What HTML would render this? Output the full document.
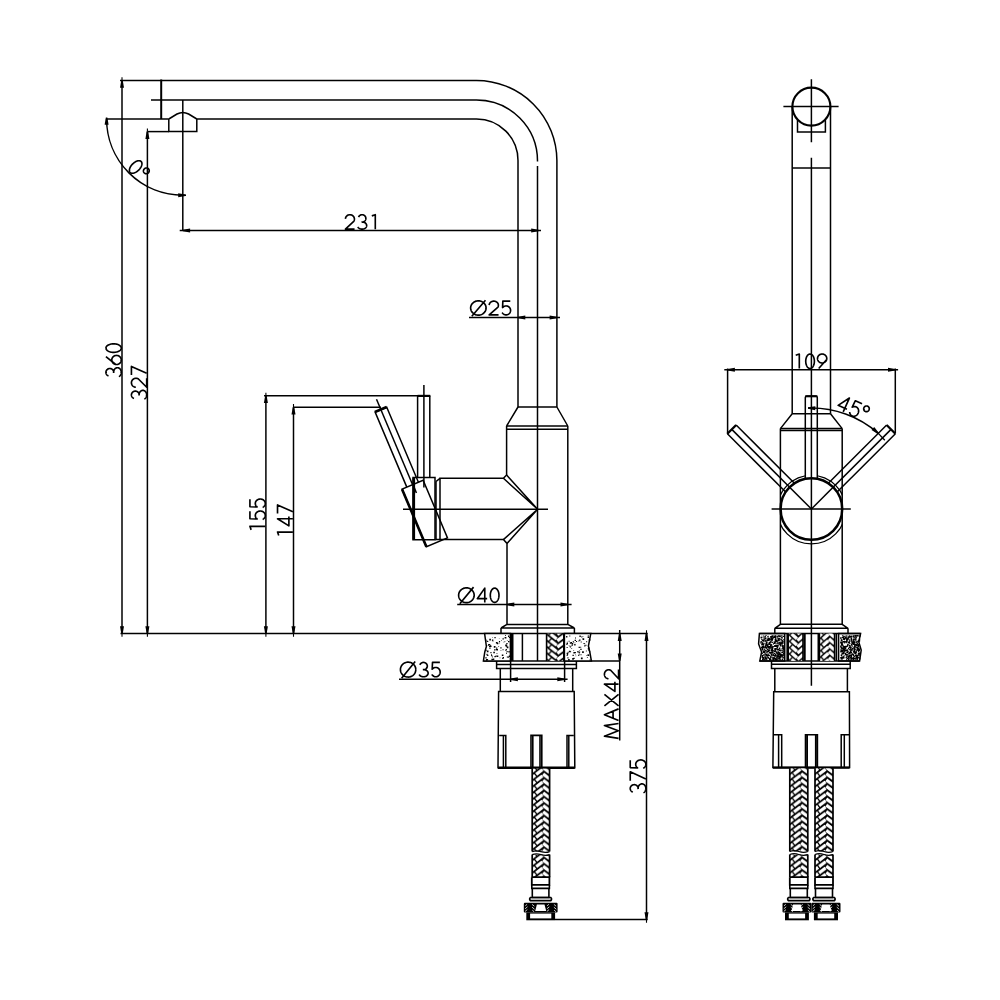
<!DOCTYPE html>
<html><head><meta charset="utf-8"><style>
html,body{margin:0;padding:0;background:#fff;width:1000px;height:1000px;overflow:hidden}
svg{display:block}
text{font-family:"Liberation Sans",sans-serif;fill:#000;stroke:none}
</style></head><body>
<svg width="1000" height="1000" viewBox="0 0 1000 1000" fill="none" stroke="#000" stroke-linecap="butt">
<path d="M120,80.5H476.5A80.4,80.4 0 0 1 556.9,160.5V407" stroke-width="1.5"/>
<path d="M151,100H476.5A61,61 0 0 1 537.5,161.5" stroke-width="1.5"/>
<path d="M537.5,166V661" stroke-width="1.5"/>
<path d="M196.8,119H476.5A41.5,41.5 0 0 1 518,160.5V407" stroke-width="1.5"/>
<path d="M106,119H168.8" stroke-width="1.5"/>
<path d="M161.2,79.5V119" stroke-width="2.0"/>
<path d="M168.8,119V131.6H196.8V119M168.8,119L177,114Q182.8,110.8 188.6,114L196.8,119" stroke-width="1.5"/>
<path d="M147.5,131.6H168.8" stroke-width="1.5"/>
<path d="M182.8,100V230.5" stroke-width="1.5"/>
<path d="M518,407H556.9M518,407L506.6,426M556.9,407L567.8,426" stroke-width="1.5"/>
<path d="M506.6,426H567.8M506.6,429.2H567.8" stroke-width="1.5"/>
<path d="M506.6,426V475L503.4,478.3H440V539.6H503.4L507,543.4V624.4" stroke-width="1.5"/>
<path d="M567.8,426V624.4" stroke-width="1.5"/>
<path d="M503.4,478.3L537.6,509.3L506.6,475M503.4,539.6L537.6,509.3L507,543.4" stroke-width="1.5"/>
<path d="M436,481.5L440,478.3M436,481.5V539.6H440" stroke-width="1.5"/>
<path d="M413,477.6H435V539.7H413Z" stroke-width="1.5"/>
<path d="M413.8,478V539.5" stroke-width="2.6"/>
<path d="M403,509.3H548" stroke-width="1.5"/>
<path d="M417.6,395.8V477.6M429.8,395.8V477.6" stroke-width="1.5"/>
<path d="M423.9,385V477.6" stroke-width="1.5"/>
<path d="M264,395.8H430.2" stroke-width="1.5"/>
<path d="M417.6,395.9H430.2" stroke-width="2.2"/>
<path d="M293.5,407.2H381" stroke-width="1.5"/>
<g transform="translate(376.5,399.2) rotate(-22.9)"><path d="M0,0V92.8" stroke-width="1.5"/><path d="M-6.3,92.8V11.4H6.3V92.8" stroke-width="1.5"/><path d="M-6.5,11.2H6.3" stroke-width="2.6"/><path d="M-11.45,92.8H11.45V155.3H-11.45Z" stroke-width="1.5"/><path d="M-11.45,92.8V155.3" stroke-width="2.6"/></g>
<path d="M507,624.4H567.8M507,624.4L501,628M567.8,624.4L574.4,628M501,628H574.4M501,628V633.6M574.4,628V633.6" stroke-width="1.5"/>
<path d="M120.5,633.6H647.7" stroke-width="1.5"/>
<path d="M483.4,660.9H620" stroke-width="1.5"/>
<circle cx="811.4" cy="106.6" r="19" stroke-width="2.1"/>
<path d="M783.4,106.6H838.6M811.4,79.2V142.2M811.4,157.8V685.7" stroke-width="1.5"/>
<path d="M792.2,106.6V413.8M830.5,106.6V413.8" stroke-width="1.5"/>
<path d="M797.5,119.5V132H825.4V119.5" stroke-width="1.5"/>
<path d="M792.2,168H830.5" stroke-width="1.5"/>
<path d="M792.2,413.8H830.5M792.2,413.8L780.4,428.6M830.5,413.8L842.2,428.6" stroke-width="1.5"/>
<path d="M780.4,428.6H842.2M780.4,430.6H842.2" stroke-width="1.5"/>
<path d="M780.4,428.6V624.3M842.2,428.6V624.3" stroke-width="1.5"/>
<path d="M780.4,624.3H842.2M780.4,624.3L774.8,628.3M842.2,624.3L848,628.3M774.8,628.3H848M774.8,628.3V633.4M848,628.3V633.4" stroke-width="1.5"/>
<path d="M122,80.5V633.6" stroke-width="1.5"/>
<path d="M122,77.3V80.5M122,633.6V636.8" stroke-width="1.1"/>
<path d="M122.75,80.50L124.00,87.80L120.00,87.80L121.25,80.50Z" fill="#000" stroke="none"/>
<path d="M121.25,633.60L120.00,626.30L124.00,626.30L122.75,633.60Z" fill="#000" stroke="none"/>
<path d="M108.50,375.91L108.13,375.76L107.78,375.57L107.45,375.35L107.15,375.09L106.87,374.81L106.63,374.50L106.41,374.17L106.24,373.82L106.10,373.45L106.00,373.08L105.94,372.69L105.93,372.30L105.95,371.91L106.01,371.52L106.11,371.15L106.26,370.78L106.44,370.43L106.65,370.10L106.90,369.80L107.18,369.52L107.49,369.27L107.82,369.05L108.17,368.87L108.54,368.72L108.93,368.61L109.32,368.54L109.72,368.50L110.12,368.51L110.52,368.56L110.91,368.65L111.28,368.77L111.65,368.93L111.99,369.13L112.32,369.36L112.61,369.63L112.88,369.92L113.12,370.23L113.32,370.57L113.48,370.93L113.61,371.30L113.70,371.68L113.74,372.06L113.75,372.45M113.64,372.97L113.60,372.49L113.61,372.01L113.66,371.53L113.75,371.06L113.87,370.61L114.04,370.17L114.24,369.76L114.48,369.37L114.75,369.02L115.05,368.70L115.37,368.42L115.72,368.18L116.09,367.99L116.47,367.84L116.86,367.75L117.25,367.70L117.65,367.70L118.05,367.75L118.44,367.85L118.82,368.00L119.18,368.20L119.53,368.44L119.85,368.72L120.15,369.04L120.41,369.40L120.65,369.79L120.85,370.20L121.01,370.64L121.14,371.10L121.22,371.57L121.27,372.04L121.27,372.52L121.23,373.00L121.15,373.47L121.03,373.93L120.88,374.37L120.68,374.79L120.45,375.18L120.19,375.55L119.90,375.87L119.58,376.16L119.24,376.41L118.88,376.61M116.52,355.43L116.03,355.45L115.54,355.53L115.07,355.64L114.61,355.81L114.17,356.02L113.76,356.27L113.38,356.56L113.02,356.89L112.71,357.25L112.44,357.64L112.21,358.05L112.02,358.49L111.89,358.94L111.80,359.40L111.76,359.87L111.77,360.33L111.84,360.80L111.95,361.26L112.11,361.70L112.32,362.12L112.57,362.52L112.86,362.90L113.20,363.24L113.56,363.55L113.96,363.82L114.39,364.06L114.84,364.24L115.30,364.39L115.78,364.48L116.27,364.53L116.76,364.53L117.25,364.48L117.73,364.39L118.20,364.24L118.64,364.06L119.07,363.82L119.47,363.55L119.84,363.24L120.17,362.90L120.46,362.52L120.72,362.12L120.92,361.70L121.09,361.26L121.20,360.80L121.26,360.33L121.27,359.87L121.24,359.40L121.15,358.94L121.01,358.49L120.83,358.05L120.60,357.64L120.32,357.25L120.01,356.89L119.66,356.56L119.27,356.27L118.86,356.02L118.42,355.81L117.96,355.64L117.49,355.53L117.01,355.45L116.52,355.43M105.92,356.60L115.44,364.24M105.92,348.08L105.97,348.52L106.09,348.96L106.29,349.38L106.57,349.79L106.92,350.18L107.34,350.55L107.84,350.90L108.39,351.21L108.99,351.49L109.65,351.74L110.35,351.94L111.08,352.11L111.84,352.23L112.61,352.31L113.40,352.34L114.19,352.33L114.98,352.28L115.75,352.17L116.49,352.03L117.21,351.84L117.88,351.62L118.52,351.36L119.10,351.06L119.62,350.73L120.08,350.37L120.47,349.99L120.78,349.59L121.02,349.17L121.18,348.74L121.26,348.30L121.26,347.87L121.18,347.43L121.02,347.00L120.78,346.58L120.47,346.18L120.08,345.80L119.62,345.44L119.10,345.11L118.52,344.81L117.88,344.55L117.21,344.32L116.49,344.14L115.75,343.99L114.98,343.89L114.19,343.84L113.40,343.83L112.61,343.86L111.84,343.94L111.08,344.06L110.35,344.23L109.65,344.43L108.99,344.68L108.39,344.96L107.84,345.27L107.34,345.62L106.92,345.99L106.57,346.38L106.29,346.79L106.09,347.21L105.97,347.65L105.92,348.08" stroke-width="1.65" stroke-linejoin="round"/>
<path d="M147.4,131.6V633.6" stroke-width="1.5"/>
<path d="M147.4,128.5V131.6M147.4,633.6V636.8" stroke-width="1.1"/>
<path d="M148.15,131.60L149.40,138.90L145.40,138.90L146.65,131.60Z" fill="#000" stroke="none"/>
<path d="M146.65,633.60L145.40,626.30L149.40,626.30L148.15,633.60Z" fill="#000" stroke="none"/>
<path d="M133.98,398.43L133.62,398.28L133.27,398.09L132.94,397.87L132.64,397.62L132.37,397.35L132.12,397.04L131.91,396.72L131.74,396.37L131.60,396.01L131.50,395.64L131.44,395.26L131.43,394.87L131.45,394.49L131.51,394.11L131.61,393.74L131.75,393.38L131.93,393.04L132.15,392.71L132.39,392.41L132.67,392.14L132.98,391.89L133.31,391.68L133.66,391.50L134.03,391.35L134.41,391.24L134.80,391.17L135.19,391.14L135.59,391.15L135.99,391.19L136.37,391.28L136.75,391.40L137.11,391.56L137.45,391.76L137.77,391.99L138.07,392.24L138.33,392.53L138.57,392.84L138.77,393.17L138.93,393.52L139.06,393.89L139.15,394.26L139.19,394.64L139.20,395.03M139.09,395.53L139.05,395.06L139.06,394.58L139.11,394.12L139.19,393.65L139.32,393.21L139.49,392.78L139.69,392.37L139.93,391.99L140.19,391.64L140.49,391.33L140.81,391.06L141.16,390.82L141.52,390.63L141.90,390.49L142.29,390.40L142.68,390.35L143.08,390.35L143.47,390.40L143.86,390.50L144.23,390.65L144.59,390.84L144.94,391.08L145.26,391.35L145.55,391.67L145.82,392.02L146.05,392.40L146.25,392.81L146.41,393.24L146.54,393.69L146.62,394.15L146.67,394.62L146.67,395.09L146.63,395.57L146.55,396.03L146.44,396.48L146.28,396.91L146.09,397.33L145.86,397.71L145.60,398.07L145.31,398.39L144.99,398.67L144.65,398.92L144.29,399.12M135.84,387.23L135.38,387.19L134.92,387.11L134.47,386.98L134.04,386.80L133.63,386.59L133.25,386.33L132.89,386.04L132.56,385.71L132.28,385.36L132.02,384.97L131.82,384.57L131.65,384.14L131.53,383.70L131.45,383.25L131.43,382.79L131.44,382.34L131.51,381.89L131.62,381.45L131.78,381.02L131.99,380.61L132.23,380.22L132.51,379.86L132.83,379.52L133.18,379.23L133.56,378.96L133.97,378.74L134.40,378.56L134.84,378.42L135.30,378.33L135.76,378.28L136.23,378.28L136.69,378.33L137.15,378.42L137.59,378.55L138.02,378.73L138.42,378.96L146.68,387.24L146.68,378.13M131.42,375.10L131.42,366.43L146.68,373.36" stroke-width="1.65" stroke-linejoin="round"/>
<path d="M265.9,395.8V633.6" stroke-width="1.5"/>
<path d="M265.9,392.7V395.8M265.9,633.6V636.8" stroke-width="1.1"/>
<path d="M266.65,395.80L267.90,403.10L263.90,403.10L265.15,395.80Z" fill="#000" stroke="none"/>
<path d="M265.15,633.60L263.90,626.30L267.90,626.30L266.65,633.60Z" fill="#000" stroke="none"/>
<path d="M251.15,529.88L249.92,526.32L265.28,526.32M249.92,511.34L249.92,518.75L257.14,519.05L256.95,518.79L256.58,518.47L256.26,518.11L255.98,517.73L255.74,517.32L255.55,516.89L255.42,516.45L255.33,516.00L255.30,515.54L255.32,515.08L255.39,514.63L255.52,514.18L255.69,513.75L255.92,513.34L256.19,512.95L256.51,512.58L256.86,512.25L257.26,511.95L257.68,511.69L258.13,511.47L258.61,511.30L259.10,511.17L259.61,511.08L260.12,511.04L260.64,511.05L261.15,511.11L261.65,511.21L262.14,511.36L262.61,511.55L263.05,511.78L263.46,512.06L263.84,512.37L264.18,512.71L264.48,513.08L264.74,513.48L264.95,513.90L265.11,514.34L265.21,514.79L265.27,515.25L265.27,515.71L265.22,516.16L265.11,516.61L264.96,517.05L264.75,517.47L264.50,517.87L264.20,518.25L263.86,518.59L263.48,518.90L263.07,519.18L262.63,519.42M249.92,499.32L249.92,506.74L257.14,507.03L256.95,506.78L256.58,506.46L256.26,506.10L255.98,505.72L255.74,505.31L255.55,504.88L255.42,504.44L255.33,503.98L255.30,503.53L255.32,503.07L255.39,502.61L255.52,502.17L255.69,501.73L255.92,501.32L256.19,500.93L256.51,500.57L256.86,500.24L257.26,499.94L257.68,499.68L258.13,499.46L258.61,499.28L259.10,499.15L259.61,499.07L260.12,499.03L260.64,499.04L261.15,499.09L261.65,499.19L262.14,499.34L262.61,499.54L263.05,499.77L263.46,500.04L263.84,500.35L264.18,500.70L264.48,501.07L264.74,501.47L264.95,501.89L265.11,502.33L265.21,502.78L265.27,503.23L265.27,503.69L265.22,504.15L265.11,504.60L264.96,505.04L264.75,505.46L264.50,505.86L264.20,506.23L263.86,506.58L263.48,506.89L263.07,507.17L262.63,507.40" stroke-width="1.65" stroke-linejoin="round"/>
<path d="M293.5,407.2V633.6" stroke-width="1.5"/>
<path d="M293.5,404.1V407.2M293.5,633.6V636.8" stroke-width="1.1"/>
<path d="M294.25,407.20L295.50,414.50L291.50,414.50L292.75,407.20Z" fill="#000" stroke="none"/>
<path d="M292.75,633.60L291.50,626.30L295.50,626.30L294.25,633.60Z" fill="#000" stroke="none"/>
<path d="M278.75,535.47L277.52,532.05L292.88,532.05M292.88,518.77L277.52,518.77L288.88,525.91L288.88,516.49M277.52,513.49L277.52,504.93L292.88,511.78" stroke-width="1.65" stroke-linejoin="round"/>
<path d="M179.7,230.5H541" stroke-width="1.5"/>
<path d="M182.80,229.75L190.10,228.50L190.10,232.50L182.80,231.25Z" fill="#000" stroke="none"/>
<path d="M538.50,231.25L531.20,232.50L531.20,228.50L538.50,229.75Z" fill="#000" stroke="none"/>
<path d="M345.43,218.91L345.47,218.47L345.55,218.04L345.68,217.61L345.86,217.21L346.07,216.82L346.33,216.45L346.62,216.11L346.95,215.80L347.31,215.53L347.69,215.29L348.10,215.09L348.53,214.94L348.97,214.82L349.42,214.75L349.88,214.73L350.34,214.74L350.79,214.81L351.23,214.91L351.66,215.06L352.07,215.26L352.46,215.49L352.83,215.76L353.16,216.06L353.46,216.39L353.72,216.75L353.95,217.14L354.13,217.54L354.27,217.96L354.36,218.39L354.41,218.83L354.41,219.27L354.36,219.71L354.27,220.15L354.13,220.57L353.95,220.97L353.73,221.36L345.43,229.18L354.56,229.18M358.55,217.15L358.70,216.80L358.89,216.47L359.11,216.16L359.36,215.88L359.64,215.62L359.94,215.39L360.27,215.19L360.61,215.02L360.98,214.89L361.35,214.80L361.73,214.74L362.12,214.73L362.50,214.75L362.88,214.81L363.25,214.90L363.61,215.04L363.96,215.21L364.28,215.41L364.58,215.64L364.86,215.91L365.11,216.20L365.32,216.51L365.50,216.84L365.65,217.19L365.76,217.55L365.83,217.92L365.86,218.30L365.85,218.67L365.81,219.05L365.72,219.41L365.60,219.77L365.44,220.11L365.24,220.44L365.01,220.74L364.75,221.02L364.47,221.27L364.16,221.49L363.82,221.68L363.47,221.84L363.11,221.96L362.73,222.04L362.35,222.09L361.96,222.09M361.46,221.99L361.93,221.95L362.41,221.96L362.88,222.00L363.34,222.09L363.79,222.21L364.22,222.36L364.63,222.56L365.01,222.78L365.36,223.03L365.67,223.32L365.94,223.62L366.18,223.95L366.37,224.29L366.51,224.65L366.61,225.02L366.66,225.39L366.65,225.76L366.60,226.14L366.50,226.50L366.36,226.86L366.16,227.20L365.92,227.53L365.65,227.83L365.33,228.11L364.98,228.36L364.60,228.58L364.19,228.77L363.75,228.93L363.30,229.05L362.84,229.13L362.37,229.17L361.89,229.17L361.42,229.14L360.96,229.06L360.50,228.95L360.07,228.80L359.66,228.62L359.27,228.40L358.91,228.15L358.59,227.88L358.30,227.58L358.06,227.26L357.86,226.92M371.81,215.88L375.29,214.72L375.29,229.18" stroke-width="1.65" stroke-linejoin="round"/>
<path d="M106.6,119A76.2,76.2 0 0 0 182.8,195.2H186" stroke-width="1.5"/>
<path d="M107.35,117.50L108.60,124.80L104.60,124.80L105.85,117.50Z" fill="#000" stroke="none"/>
<path d="M185.50,195.95L178.20,197.20L178.20,193.20L185.50,194.45Z" fill="#000" stroke="none"/>
<path d="M141.15,161.52L140.81,161.23L140.41,161.01L139.96,160.85L139.47,160.75L138.94,160.73L138.37,160.76L137.77,160.87L137.15,161.04L136.52,161.27L135.88,161.56L135.23,161.91L134.59,162.32L133.96,162.77L133.35,163.27L132.76,163.81L132.21,164.38L131.69,164.98L131.21,165.60L130.78,166.24L130.40,166.88L130.08,167.53L129.82,168.17L129.62,168.79L129.48,169.40L129.41,169.98L129.41,170.54L129.47,171.05L129.59,171.52L129.79,171.94L130.04,172.31L130.36,172.63L130.73,172.88L131.15,173.07L131.62,173.20L132.13,173.26L132.68,173.26L133.27,173.19L133.88,173.05L134.50,172.85L135.14,172.59L135.79,172.27L136.43,171.89L137.07,171.46L137.69,170.98L138.29,170.46L138.86,169.91L139.40,169.32L139.90,168.71L140.35,168.08L140.76,167.44L141.11,166.79L141.40,166.15L141.63,165.51L141.80,164.90L141.91,164.30L141.94,163.73L141.91,163.20L141.82,162.71L141.66,162.26L141.44,161.86L141.15,161.52M148.33,172.86L148.53,172.63L148.71,172.39L148.87,172.13L148.99,171.86L149.09,171.57L149.16,171.28L149.21,170.99L149.22,170.69L149.19,170.39L149.14,170.10L149.06,169.82L148.95,169.55L148.81,169.29L148.65,169.05L148.46,168.83L148.25,168.63L148.02,168.45L147.77,168.30L147.50,168.18L147.23,168.08L146.94,168.02L146.65,167.98L146.35,167.98L146.05,168.00L145.76,168.06L145.47,168.14L145.19,168.26L144.93,168.40L144.67,168.56L144.44,168.76L144.23,168.97L144.03,169.21L143.87,169.46L143.72,169.72L143.61,170.00L143.52,170.29L143.47,170.59L143.44,170.88L143.45,171.18L143.49,171.47L143.55,171.76L143.65,172.04L143.77,172.30L143.92,172.55L144.10,172.78L144.30,172.99L144.52,173.18L144.76,173.35L145.02,173.48L145.29,173.59L145.57,173.67L145.86,173.73L146.16,173.75L146.46,173.74L146.75,173.70L147.04,173.63L147.33,173.53L147.60,173.40L147.86,173.24L148.10,173.06L148.33,172.86" stroke-width="1.65" stroke-linejoin="round"/>
<path d="M469,317.5H560" stroke-width="1.5"/>
<path d="M518.00,316.75L525.30,315.50L525.30,319.50L518.00,318.25Z" fill="#000" stroke="none"/>
<path d="M556.90,318.25L549.60,319.50L549.60,315.50L556.90,316.75Z" fill="#000" stroke="none"/>
<path d="M486.07,308.00L486.03,307.26L485.91,306.54L485.70,305.83L485.42,305.14L485.07,304.48L484.64,303.86L484.15,303.28L483.59,302.75L482.98,302.28L482.32,301.87L481.62,301.52L480.88,301.25L480.12,301.04L479.34,300.91L478.55,300.85L477.75,300.87L476.96,300.97L476.19,301.13L475.44,301.38L474.72,301.69L474.04,302.07L473.40,302.51L472.82,303.01L472.29,303.56L471.83,304.16L471.44,304.80L471.12,305.48L470.88,306.18L470.72,306.90L470.64,307.63L470.64,308.37L470.72,309.10L470.88,309.82L471.12,310.52L471.44,311.20L471.83,311.84L472.29,312.44L472.82,312.99L473.40,313.49L474.04,313.93L474.72,314.31L475.44,314.62L476.19,314.87L476.96,315.03L477.75,315.13L478.55,315.15L479.34,315.09L480.12,314.96L480.88,314.75L481.62,314.48L482.32,314.13L482.98,313.72L483.59,313.25L484.15,312.72L484.64,312.14L485.07,311.52L485.42,310.86L485.70,310.17L485.91,309.46L486.03,308.74L486.07,308.00M471.81,316.25L485.48,300.16M489.19,305.11L489.23,304.69L489.32,304.28L489.45,303.87L489.63,303.48L489.85,303.12L490.12,302.77L490.42,302.45L490.75,302.15L491.12,301.89L491.51,301.67L491.93,301.48L492.37,301.33L492.82,301.22L493.29,301.15L493.75,301.13L494.22,301.14L494.68,301.20L495.14,301.31L495.58,301.45L496.00,301.63L496.40,301.85L496.77,302.11L497.11,302.39L497.42,302.71L497.69,303.05L497.92,303.42L498.11,303.81L498.25,304.21L498.34,304.62L498.39,305.03L498.39,305.45L498.34,305.87L498.25,306.28L498.11,306.68L497.93,307.07L497.70,307.44L489.19,314.88L498.55,314.88M510.28,301.12L502.85,301.12L502.56,307.59L502.81,307.42L503.13,307.09L503.49,306.80L503.88,306.55L504.28,306.33L504.71,306.17L505.16,306.04L505.61,305.97L506.07,305.94L506.53,305.96L506.98,306.02L507.43,306.14L507.86,306.29L508.28,306.50L508.67,306.74L509.03,307.02L509.36,307.34L509.66,307.69L509.92,308.07L510.14,308.48L510.32,308.90L510.45,309.35L510.53,309.80L510.57,310.26L510.56,310.72L510.51,311.18L510.41,311.63L510.26,312.07L510.06,312.48L509.83,312.88L509.55,313.25L509.24,313.59L508.90,313.90L508.53,314.17L508.13,314.40L507.71,314.58L507.27,314.72L506.82,314.82L506.36,314.87L505.90,314.87L505.44,314.82L504.99,314.73L504.55,314.59L504.13,314.41L503.73,314.18L503.36,313.91L503.01,313.61L502.70,313.27L502.42,312.90L502.19,312.50" stroke-width="1.65" stroke-linejoin="round"/>
<path d="M457.2,604.5H571.6" stroke-width="1.5"/>
<path d="M507.00,603.75L514.30,602.50L514.30,606.50L507.00,605.25Z" fill="#000" stroke="none"/>
<path d="M567.80,605.25L560.50,606.50L560.50,602.50L567.80,603.75Z" fill="#000" stroke="none"/>
<path d="M474.17,595.25L474.13,594.49L474.00,593.73L473.80,593.00L473.52,592.28L473.16,591.60L472.73,590.96L472.23,590.36L471.67,589.81L471.06,589.32L470.40,588.90L469.69,588.54L468.95,588.25L468.18,588.04L467.39,587.90L466.60,587.84L465.80,587.86L465.00,587.96L464.22,588.14L463.47,588.39L462.74,588.71L462.06,589.10L461.42,589.56L460.83,590.08L460.30,590.65L459.84,591.27L459.44,591.94L459.12,592.64L458.88,593.36L458.72,594.11L458.64,594.87L458.64,595.63L458.72,596.39L458.88,597.14L459.12,597.86L459.44,598.56L459.84,599.23L460.30,599.85L460.83,600.42L461.42,600.94L462.06,601.40L462.74,601.79L463.47,602.11L464.22,602.36L465.00,602.54L465.80,602.64L466.60,602.66L467.39,602.60L468.18,602.46L468.95,602.25L469.69,601.96L470.40,601.60L471.06,601.18L471.67,600.69L472.23,600.14L472.73,599.54L473.16,598.90L473.52,598.22L473.80,597.50L474.00,596.77L474.13,596.01L474.17,595.25M459.82,603.80L473.57,587.13M484.78,602.38L484.78,588.12L477.31,598.67L487.17,598.67M494.64,588.12L494.20,588.16L493.75,588.28L493.32,588.46L492.91,588.72L492.51,589.05L492.13,589.44L491.78,589.90L491.46,590.41L491.17,590.97L490.93,591.58L490.72,592.23L490.55,592.91L490.42,593.61L490.34,594.34L490.31,595.07L490.32,595.80L490.38,596.53L490.48,597.24L490.63,597.93L490.82,598.60L491.05,599.23L491.31,599.81L491.62,600.35L491.95,600.84L492.32,601.26L492.70,601.62L493.11,601.92L493.54,602.14L493.97,602.29L494.42,602.37L494.86,602.37L495.31,602.29L495.74,602.14L496.17,601.92L496.58,601.62L496.97,601.26L497.33,600.84L497.67,600.35L497.97,599.81L498.24,599.23L498.47,598.60L498.66,597.93L498.80,597.24L498.90,596.53L498.96,595.80L498.97,595.07L498.94,594.34L498.86,593.61L498.73,592.91L498.57,592.23L498.36,591.58L498.11,590.97L497.82,590.41L497.50,589.90L497.15,589.44L496.78,589.05L496.38,588.72L495.96,588.46L495.53,588.28L495.09,588.16L494.64,588.12" stroke-width="1.65" stroke-linejoin="round"/>
<path d="M399,679.2H567.6" stroke-width="1.5"/>
<path d="M510.60,678.45L517.90,677.20L517.90,681.20L510.60,679.95Z" fill="#000" stroke="none"/>
<path d="M564.60,679.95L557.30,681.20L557.30,677.20L564.60,678.45Z" fill="#000" stroke="none"/>
<path d="M415.79,669.60L415.75,668.83L415.63,668.07L415.43,667.33L415.15,666.61L414.80,665.92L414.37,665.28L413.88,664.67L413.33,664.12L412.72,663.63L412.06,663.20L411.37,662.84L410.63,662.55L409.87,662.34L409.10,662.20L408.31,662.14L407.52,662.16L406.73,662.26L405.96,662.44L405.21,662.69L404.50,663.01L403.82,663.41L403.19,663.87L402.61,664.39L402.08,664.97L401.63,665.60L401.24,666.26L400.92,666.97L400.68,667.70L400.52,668.45L400.44,669.22L400.44,669.98L400.52,670.75L400.68,671.50L400.92,672.23L401.24,672.94L401.63,673.60L402.08,674.23L402.61,674.81L403.19,675.33L403.82,675.79L404.50,676.19L405.21,676.51L405.96,676.76L406.73,676.94L407.52,677.04L408.31,677.06L409.10,677.00L409.87,676.86L410.63,676.65L411.37,676.36L412.06,676.00L412.72,675.57L413.33,675.08L413.88,674.53L414.37,673.92L414.80,673.28L415.15,672.59L415.43,671.87L415.63,671.13L415.75,670.37L415.79,669.60M401.61,678.21L415.20,661.42M419.87,664.83L420.02,664.49L420.21,664.16L420.43,663.85L420.69,663.57L420.97,663.31L421.28,663.08L421.62,662.88L421.97,662.72L422.34,662.59L422.72,662.50L423.11,662.44L423.50,662.43L423.89,662.45L424.28,662.51L424.66,662.60L425.03,662.74L425.38,662.90L425.71,663.10L426.02,663.34L426.30,663.60L426.55,663.89L426.77,664.20L426.95,664.53L427.10,664.87L427.21,665.23L427.29,665.60L427.32,665.97L427.31,666.35L427.26,666.72L427.17,667.08L427.05,667.44L426.88,667.78L426.68,668.10L426.45,668.40L426.19,668.68L425.90,668.93L425.58,669.15L425.24,669.34L424.88,669.49L424.51,669.61L424.13,669.69L423.74,669.74L423.34,669.74M422.83,669.63L423.31,669.60L423.79,669.61L424.27,669.65L424.75,669.74L425.20,669.86L425.64,670.01L426.06,670.20L426.45,670.42L426.80,670.68L427.12,670.96L427.40,671.26L427.64,671.58L427.83,671.92L427.98,672.28L428.08,672.64L428.13,673.02L428.12,673.39L428.07,673.76L427.97,674.12L427.82,674.48L427.62,674.82L427.38,675.14L427.10,675.44L426.78,675.72L426.42,675.97L426.03,676.19L425.61,676.38L425.17,676.53L424.71,676.65L424.24,676.73L423.76,676.77L423.27,676.77L422.79,676.74L422.32,676.66L421.86,676.55L421.41,676.40L420.99,676.22L420.60,676.01L420.23,675.76L419.90,675.49L419.61,675.19L419.37,674.87L419.16,674.53M439.88,662.43L432.49,662.43L432.20,669.17L432.45,668.99L432.77,668.65L433.13,668.35L433.51,668.08L433.92,667.86L434.34,667.69L434.78,667.56L435.23,667.48L435.69,667.45L436.15,667.47L436.60,667.54L437.05,667.65L437.48,667.82L437.89,668.03L438.28,668.28L438.64,668.58L438.97,668.91L439.26,669.28L439.52,669.68L439.74,670.10L439.92,670.54L440.05,671.01L440.13,671.48L440.17,671.96L440.16,672.44L440.11,672.92L440.01,673.39L439.86,673.84L439.67,674.28L439.43,674.69L439.16,675.08L438.85,675.44L438.51,675.76L438.14,676.04L437.74,676.27L437.32,676.47L436.88,676.62L436.44,676.72L435.98,676.77L435.52,676.77L435.07,676.72L434.62,676.62L434.18,676.48L433.76,676.29L433.37,676.05L432.99,675.77L432.65,675.45L432.34,675.10L432.06,674.71L431.83,674.30" stroke-width="1.65" stroke-linejoin="round"/>
<path d="M510.6,661V682M564.6,661V682" stroke-width="1.5"/>
<path d="M619.7,630V740.5" stroke-width="1.5"/>
<path d="M620.45,633.60L621.70,640.90L617.70,640.90L618.95,633.60Z" fill="#000" stroke="none"/>
<path d="M618.95,660.90L617.70,653.60L621.70,653.60L620.45,660.90Z" fill="#000" stroke="none"/>
<path d="M618.57,738.38L604.43,736.19L618.29,730.82L604.43,725.58L618.57,723.55M618.57,720.50L604.43,714.68L618.57,708.87M613.06,718.03L613.06,711.34M604.43,705.82L618.57,694.48M604.43,694.48L618.57,705.82M618.57,684.16L604.43,684.16L614.90,691.43L614.90,681.83M608.52,678.78L608.09,678.74L607.67,678.65L607.25,678.52L606.85,678.35L606.47,678.13L606.12,677.87L605.78,677.58L605.48,677.25L605.21,676.89L604.98,676.51L604.79,676.10L604.63,675.67L604.52,675.23L604.45,674.77L604.43,674.32L604.44,673.86L604.51,673.40L604.61,672.96L604.76,672.53L604.95,672.11L605.17,671.72L605.43,671.36L605.73,671.03L606.06,670.73L606.41,670.46L606.79,670.24L607.18,670.06L607.60,669.92L608.02,669.82L608.45,669.78L608.88,669.78L609.31,669.82L609.73,669.91L610.15,670.05L610.54,670.23L610.92,670.46L618.57,678.78L618.57,669.62" stroke-width="1.65" stroke-linejoin="round"/>
<path d="M646.5,633.6V919.6" stroke-width="1.5"/>
<path d="M646.5,630.3V633.6M646.5,919.6V922.8" stroke-width="1.1"/>
<path d="M647.25,633.60L648.50,640.90L644.50,640.90L645.75,633.60Z" fill="#000" stroke="none"/>
<path d="M645.75,919.60L644.50,912.30L648.50,912.30L647.25,919.60Z" fill="#000" stroke="none"/>
<path d="M632.85,792.11L632.48,791.95L632.12,791.77L631.78,791.54L631.47,791.29L631.19,791.01L630.94,790.70L630.72,790.36L630.55,790.01L630.40,789.64L630.30,789.26L630.24,788.88L630.23,788.49L630.25,788.09L630.31,787.71L630.42,787.33L630.56,786.96L630.75,786.61L630.97,786.28L631.22,785.98L631.50,785.70L631.82,785.45L632.16,785.23L632.52,785.04L632.89,784.89L633.28,784.78L633.69,784.71L634.09,784.68L634.50,784.69L634.91,784.73L635.30,784.82L635.69,784.95L636.06,785.11L636.41,785.31L636.74,785.54L637.04,785.80L637.32,786.10L637.56,786.41L637.76,786.75L637.93,787.11L638.06,787.48L638.15,787.86L638.20,788.25L638.20,788.64M638.09,789.15L638.05,788.67L638.06,788.19L638.11,787.71L638.20,787.24L638.33,786.79L638.50,786.35L638.71,785.93L638.95,785.55L639.22,785.19L639.53,784.87L639.86,784.59L640.21,784.36L640.59,784.16L640.97,784.02L641.37,783.92L641.78,783.87L642.18,783.87L642.59,783.93L642.98,784.03L643.37,784.18L643.74,784.37L644.09,784.61L644.42,784.90L644.72,785.22L645.00,785.58L645.24,785.97L645.44,786.38L645.61,786.82L645.74,787.28L645.82,787.75L645.87,788.23L645.87,788.71L645.83,789.19L645.75,789.66L645.63,790.12L645.47,790.57L645.27,790.99L645.04,791.38L644.77,791.74L644.47,792.07L644.15,792.36L643.80,792.61L643.43,792.81M630.23,780.70L630.23,771.86L645.88,778.93M630.23,760.22L630.23,767.59L637.58,767.88L637.39,767.63L637.01,767.31L636.68,766.95L636.39,766.57L636.15,766.17L635.96,765.74L635.82,765.30L635.74,764.85L635.70,764.40L635.72,763.94L635.80,763.49L635.93,763.05L636.11,762.62L636.34,762.21L636.62,761.82L636.94,761.46L637.30,761.13L637.70,760.83L638.13,760.58L638.59,760.36L639.08,760.18L639.58,760.05L640.10,759.97L640.62,759.93L641.15,759.94L641.67,759.99L642.18,760.09L642.68,760.24L643.15,760.43L643.61,760.66L644.03,760.94L644.41,761.25L644.76,761.59L645.07,761.96L645.33,762.35L645.54,762.77L645.70,763.21L645.81,763.65L645.87,764.11L645.87,764.56L645.82,765.02L645.71,765.46L645.55,765.90L645.34,766.32L645.08,766.71L644.78,767.09L644.43,767.43L644.05,767.74L643.63,768.01L643.18,768.25" stroke-width="1.65" stroke-linejoin="round"/>
<path d="M555,919.6H647.7" stroke-width="1.5"/>
<path d="M724.3,369.7H898.1" stroke-width="1.5"/>
<path d="M727.60,368.95L734.90,367.70L734.90,371.70L727.60,370.45Z" fill="#000" stroke="none"/>
<path d="M895.30,370.45L888.00,371.70L888.00,367.70L895.30,368.95Z" fill="#000" stroke="none"/>
<path d="M795.73,355.18L799.31,354.02L799.31,368.48M810.06,354.02L809.61,354.06L809.17,354.18L808.74,354.37L808.32,354.63L807.92,354.96L807.55,355.36L807.20,355.82L806.88,356.34L806.59,356.91L806.34,357.53L806.13,358.19L805.97,358.88L805.84,359.59L805.76,360.32L805.73,361.06L805.74,361.81L805.80,362.55L805.90,363.27L806.05,363.97L806.23,364.65L806.46,365.28L806.73,365.88L807.03,366.42L807.37,366.92L807.73,367.35L808.12,367.71L808.53,368.01L808.95,368.24L809.39,368.39L809.83,368.47L810.28,368.47L810.72,368.39L811.16,368.24L811.58,368.01L811.99,367.71L812.38,367.35L812.74,366.92L813.08,366.42L813.38,365.88L813.65,365.28L813.88,364.65L814.07,363.97L814.21,363.27L814.31,362.55L814.37,361.81L814.38,361.06L814.35,360.32L814.27,359.59L814.14,358.88L813.98,358.19L813.77,357.53L813.52,356.91L813.23,356.34L812.91,355.82L812.56,355.36L812.19,354.96L811.79,354.63L811.37,354.37L810.94,354.18L810.50,354.06L810.06,354.02M826.77,358.50L826.75,358.04L826.68,357.59L826.56,357.14L826.39,356.71L826.17,356.30L825.92,355.91L825.62,355.55L825.29,355.22L824.92,354.92L824.53,354.66L824.11,354.45L823.67,354.27L823.21,354.14L822.74,354.06L822.27,354.03L821.79,354.04L821.32,354.10L820.85,354.20L820.40,354.36L819.97,354.55L819.56,354.79L819.18,355.06L818.83,355.38L818.52,355.72L818.24,356.10L818.01,356.50L817.82,356.92L817.67,357.36L817.57,357.82L817.53,358.27L817.53,358.74L817.57,359.19L817.67,359.65L817.82,360.08L818.01,360.51L818.24,360.91L818.52,361.28L818.83,361.63L819.18,361.94L819.56,362.22L819.97,362.46L820.40,362.65L820.85,362.81L821.32,362.91L821.79,362.97L822.27,362.98L822.74,362.95L823.21,362.86L823.67,362.74L824.11,362.56L824.53,362.34L824.92,362.09L825.29,361.79L825.62,361.46L825.92,361.10L826.17,360.71L826.39,360.30L826.56,359.87L826.68,359.42L826.75,358.97L826.77,358.50M826.48,359.81L818.71,368.48" stroke-width="1.65" stroke-linejoin="round"/>
<path d="M727.6,368.5V434M895.3,368.5V433.2" stroke-width="1.5"/>
<path d="M808,408.05A101,101 0 0 1 878.32,433.36" stroke-width="1.5"/>
<path d="M808.02,407.30L815.36,406.27L815.24,410.27L807.98,408.80Z" fill="#000" stroke="none"/>
<path d="M877.83,433.92L871.53,430.02L874.18,427.02L878.82,432.79Z" fill="#000" stroke="none"/>
<path d="M843.20,411.94L849.38,398.06L838.14,405.36L846.94,409.28M862.05,403.70L855.38,400.73L852.21,407.14L852.51,407.06L852.95,406.86L853.40,406.71L853.86,406.61L854.33,406.56L854.79,406.56L855.24,406.62L855.68,406.72L856.11,406.87L856.51,407.08L856.89,407.32L857.24,407.62L857.55,407.95L857.84,408.32L858.08,408.72L858.28,409.15L858.43,409.61L858.54,410.08L858.60,410.57L858.62,411.07L858.58,411.57L858.50,412.07L858.38,412.56L858.20,413.04L857.99,413.50L857.73,413.94L857.44,414.35L857.11,414.74L856.75,415.08L856.36,415.39L855.95,415.65L855.51,415.87L855.07,416.04L854.61,416.17L854.15,416.24L853.69,416.26L853.23,416.23L852.78,416.14L852.35,416.01L851.94,415.83L851.55,415.60L851.19,415.32L850.86,415.01L850.56,414.65L850.30,414.26L850.09,413.84L849.91,413.40L849.78,412.93L849.70,412.45L849.67,411.95M869.00,409.95L869.11,409.68L869.19,409.39L869.24,409.10L869.26,408.80L869.25,408.51L869.22,408.22L869.15,407.93L869.05,407.66L868.93,407.39L868.78,407.14L868.61,406.91L868.41,406.70L868.20,406.52L867.96,406.35L867.71,406.22L867.45,406.11L867.17,406.03L866.89,405.98L866.61,405.96L866.32,405.97L866.03,406.01L865.75,406.08L865.48,406.18L865.21,406.30L864.96,406.46L864.73,406.64L864.52,406.84L864.32,407.06L864.15,407.31L864.00,407.56L863.88,407.84L863.79,408.12L863.72,408.41L863.69,408.70L863.68,409.00L863.70,409.29L863.76,409.58L863.84,409.86L863.95,410.13L864.08,410.39L864.24,410.63L864.43,410.85L864.64,411.04L864.86,411.22L865.10,411.37L865.36,411.49L865.63,411.59L865.91,411.65L866.19,411.69L866.48,411.69L866.77,411.67L867.05,411.61L867.33,411.53L867.60,411.41L867.86,411.27L868.10,411.11L868.32,410.92L868.53,410.70L868.71,410.47L868.87,410.22L869.00,409.95" stroke-width="1.65" stroke-linejoin="round"/>
<clipPath id="bodyclip"><path clip-rule="evenodd" d="M780.4,440H842.2V560H780.4ZM805.3,440H817.3V479H805.3Z"/></clipPath>
<circle cx="811.4" cy="509.6" r="34.3" stroke-width="1.3" clip-path="url(#bodyclip)"/>
<path d="M805.3,480V397.6Q805.3,395.9 807,395.9H815.6Q817.3,395.9 817.3,397.6V480" stroke-width="1.5"/>
<path d="M805.3,396.3H817.3" stroke-width="2.0"/>
<circle cx="811.4" cy="509" r="30.8" stroke-width="2.5"/>
<path d="M771.6,509H850.8" stroke-width="1.5"/>
<path d="M794.45,483.28L736.16,425.00" stroke-width="1.5"/>
<path d="M785.68,492.05L727.40,433.76" stroke-width="1.5"/>
<path d="M811.40,509.00L731.78,429.38" stroke-width="1.5"/>
<path d="M736.16,425.00L727.40,433.76" stroke-width="2.3"/>
<path d="M837.12,492.05L895.40,433.76" stroke-width="1.5"/>
<path d="M828.35,483.28L886.64,425.00" stroke-width="1.5"/>
<path d="M811.40,509.00L891.02,429.38" stroke-width="1.5"/>
<path d="M895.40,433.76L886.64,425.00" stroke-width="2.3"/>
<polygon points="484.6,633.6 510.4,633.6 510.4,660.9 483.4,660.9 484.8,652 486.4,646.4" fill="#fff" stroke-width="1.5"/>
<path d="M495.8,648.7h1.6v1.6h-1.6zM496.1,647.4h1.2v1.2h-1.2zM489.3,647.5h1.3v1.3h-1.3zM503.9,637.4h0.9v0.9h-0.9zM487.1,654.8h1.3v1.3h-1.3zM485.9,659.0h1.7v1.7h-1.7zM500.6,650.1h0.7v0.7h-0.7zM486.3,639.7h0.8v0.8h-0.8zM495.5,655.6h1.1v1.1h-1.1zM500.3,647.2h1.3v1.3h-1.3zM495.9,641.9h1.7v1.7h-1.7zM508.8,655.5h1.4v1.4h-1.4zM492.5,640.7h0.9v0.9h-0.9zM486.6,653.7h1.0v1.0h-1.0zM505.2,644.5h1.7v1.7h-1.7zM505.2,635.1h0.8v0.8h-0.8zM506.7,646.5h1.7v1.7h-1.7zM494.4,636.9h1.3v1.3h-1.3zM503.6,641.7h0.7v0.7h-0.7zM492.9,658.5h1.4v1.4h-1.4zM487.7,641.1h0.7v0.7h-0.7zM486.3,654.5h0.8v0.8h-0.8zM498.3,646.0h0.8v0.8h-0.8zM502.5,638.3h1.3v1.3h-1.3zM487.7,645.3h0.8v0.8h-0.8zM491.4,658.7h1.5v1.5h-1.5zM492.2,656.6h0.8v0.8h-0.8zM494.4,655.9h1.3v1.3h-1.3zM487.3,659.1h0.8v0.8h-0.8zM491.1,653.9h0.9v0.9h-0.9zM492.0,636.9h0.7v0.7h-0.7zM498.9,641.0h1.2v1.2h-1.2zM493.8,646.1h1.7v1.7h-1.7zM496.5,649.1h1.5v1.5h-1.5zM489.3,638.8h1.6v1.6h-1.6zM504.5,641.2h0.8v0.8h-0.8zM502.6,658.0h0.8v0.8h-0.8zM507.7,656.5h1.2v1.2h-1.2zM495.0,637.6h0.6v0.6h-0.6zM508.0,640.9h1.4v1.4h-1.4zM491.1,655.1h1.2v1.2h-1.2zM491.9,639.4h1.4v1.4h-1.4zM486.6,640.7h1.2v1.2h-1.2zM505.4,650.0h0.9v0.9h-0.9zM506.9,640.1h0.6v0.6h-0.6zM491.4,645.9h0.6v0.6h-0.6zM489.1,644.1h1.2v1.2h-1.2zM488.1,643.9h1.6v1.6h-1.6zM508.4,651.1h1.3v1.3h-1.3zM498.9,638.5h0.6v0.6h-0.6zM485.3,657.2h1.4v1.4h-1.4zM508.0,635.6h1.3v1.3h-1.3zM496.5,652.9h0.9v0.9h-0.9zM508.9,636.9h1.2v1.2h-1.2zM502.6,657.0h1.4v1.4h-1.4zM501.8,654.4h1.6v1.6h-1.6zM493.3,651.7h1.6v1.6h-1.6zM505.8,645.2h1.5v1.5h-1.5zM505.6,649.0h1.3v1.3h-1.3zM494.1,649.3h1.3v1.3h-1.3zM486.8,650.6h1.7v1.7h-1.7zM506.0,652.8h1.0v1.0h-1.0zM502.5,649.2h1.1v1.1h-1.1zM505.0,637.1h1.4v1.4h-1.4zM485.6,649.7h1.1v1.1h-1.1zM490.4,652.1h1.1v1.1h-1.1zM499.6,657.5h0.8v0.8h-0.8zM501.2,640.0h0.7v0.7h-0.7zM506.6,651.1h1.1v1.1h-1.1zM506.3,643.0h1.3v1.3h-1.3zM489.7,645.6h1.5v1.5h-1.5zM506.8,656.5h1.0v1.0h-1.0zM498.9,642.8h0.7v0.7h-0.7zM496.8,655.4h1.5v1.5h-1.5zM502.0,658.2h0.9v0.9h-0.9zM489.0,646.1h0.9v0.9h-0.9zM490.0,645.2h1.3v1.3h-1.3zM496.8,642.8h1.5v1.5h-1.5z" fill="#000" stroke="none"/>
<polygon points="564.4,633.6 590.8,633.6 588.4,646 589.8,652 591.4,660.9 564.4,660.9" fill="#fff" stroke-width="1.5"/>
<path d="M577.3,651.1h1.3v1.3h-1.3zM569.3,635.4h1.0v1.0h-1.0zM572.5,654.8h1.3v1.3h-1.3zM580.3,648.7h1.3v1.3h-1.3zM569.4,645.8h0.7v0.7h-0.7zM587.6,636.5h1.5v1.5h-1.5zM567.7,651.8h0.9v0.9h-0.9zM575.6,655.6h0.6v0.6h-0.6zM567.4,657.3h1.1v1.1h-1.1zM568.1,659.1h1.6v1.6h-1.6zM568.6,645.4h0.7v0.7h-0.7zM573.4,650.2h0.7v0.7h-0.7zM582.6,636.3h0.7v0.7h-0.7zM585.5,644.8h1.0v1.0h-1.0zM580.2,646.7h1.0v1.0h-1.0zM566.6,652.7h1.7v1.7h-1.7zM589.3,651.2h1.0v1.0h-1.0zM574.6,651.9h1.3v1.3h-1.3zM568.6,640.8h1.0v1.0h-1.0zM578.2,654.8h1.1v1.1h-1.1zM566.6,655.1h1.0v1.0h-1.0zM578.4,640.5h1.0v1.0h-1.0zM575.2,653.9h0.7v0.7h-0.7zM579.1,639.4h1.4v1.4h-1.4zM566.8,641.8h0.9v0.9h-0.9zM581.2,636.4h1.1v1.1h-1.1zM570.9,642.0h1.1v1.1h-1.1zM588.8,639.2h1.6v1.6h-1.6zM574.6,639.7h1.4v1.4h-1.4zM587.8,635.3h0.9v0.9h-0.9zM584.4,643.4h0.8v0.8h-0.8zM566.1,636.1h1.3v1.3h-1.3zM589.5,659.4h1.1v1.1h-1.1zM566.5,642.9h1.5v1.5h-1.5zM585.9,650.6h0.8v0.8h-0.8zM578.6,646.7h1.3v1.3h-1.3zM572.2,658.1h1.6v1.6h-1.6zM569.8,642.2h1.6v1.6h-1.6zM572.6,658.0h1.1v1.1h-1.1zM582.6,652.2h0.8v0.8h-0.8zM572.7,641.3h1.3v1.3h-1.3zM582.6,638.3h1.6v1.6h-1.6zM576.0,641.0h1.1v1.1h-1.1zM580.9,657.5h1.7v1.7h-1.7zM584.2,645.2h1.2v1.2h-1.2zM587.5,654.3h1.2v1.2h-1.2zM574.2,644.1h1.4v1.4h-1.4zM579.4,635.5h1.4v1.4h-1.4zM587.6,654.5h1.6v1.6h-1.6zM587.8,648.1h1.5v1.5h-1.5zM575.0,637.5h1.0v1.0h-1.0zM573.4,657.8h1.3v1.3h-1.3zM578.9,650.2h0.7v0.7h-0.7zM578.7,652.1h1.0v1.0h-1.0zM571.8,645.0h0.9v0.9h-0.9zM582.3,638.5h0.7v0.7h-0.7zM573.4,652.0h1.4v1.4h-1.4zM581.7,657.8h1.0v1.0h-1.0zM566.6,647.0h1.1v1.1h-1.1zM570.2,651.3h0.9v0.9h-0.9zM571.6,643.1h1.6v1.6h-1.6zM566.1,643.9h0.9v0.9h-0.9zM570.7,645.6h0.8v0.8h-0.8zM588.0,647.3h1.4v1.4h-1.4zM569.8,646.4h1.2v1.2h-1.2zM586.1,641.2h1.1v1.1h-1.1zM586.4,655.3h0.8v0.8h-0.8zM578.8,653.6h1.0v1.0h-1.0zM582.1,651.2h1.7v1.7h-1.7zM579.2,651.6h1.0v1.0h-1.0zM583.5,642.9h1.1v1.1h-1.1zM574.6,642.6h0.7v0.7h-0.7zM571.3,648.3h0.8v0.8h-0.8zM567.0,654.6h0.9v0.9h-0.9zM588.4,649.7h1.0v1.0h-1.0zM586.9,656.9h0.9v0.9h-0.9zM568.9,650.7h1.5v1.5h-1.5zM580.5,654.2h1.0v1.0h-1.0zM580.7,641.5h1.0v1.0h-1.0z" fill="#000" stroke="none"/>
<path d="M512.2,633.6V660.9" stroke-width="2.6"/>
<path d="M522.4,633.6V660.9" stroke-width="1.5"/>
<pattern id="hs1" patternUnits="userSpaceOnUse" x="546.6" y="633.6" width="17.20" height="6.3"><rect x="0" y="0" width="17.20" height="6.3" fill="#000"/><path d="M4.96,11.82L11.08,16.62L9.08,19.18L2.95,14.38ZM1.93,13.58L-2.56,10.06L-0.55,7.50L3.93,11.02ZM9.80,18.50L16.42,13.50L18.38,16.10L11.75,21.10ZM4.96,5.52L11.08,10.32L9.08,12.88L2.95,8.08ZM1.93,7.28L-2.56,3.76L-0.55,1.20L3.93,4.72ZM9.80,12.20L16.42,7.20L18.38,9.80L11.75,14.80ZM4.96,-0.78L11.08,4.02L9.08,6.58L2.95,1.78ZM1.93,0.98L-2.56,-2.54L-0.55,-5.10L3.93,-1.58ZM9.80,5.90L16.42,0.90L18.38,3.50L11.75,8.50ZM4.96,-7.08L11.08,-2.28L9.08,0.28L2.95,-4.52ZM1.93,-5.32L-2.56,-8.84L-0.55,-11.40L3.93,-7.88ZM9.80,-0.40L16.42,-5.40L18.38,-2.80L11.75,2.20ZM4.96,-13.38L11.08,-8.58L9.08,-6.02L2.95,-10.82ZM1.93,-11.62L-2.56,-15.14L-0.55,-17.70L3.93,-14.18ZM9.80,-6.70L16.42,-11.70L18.38,-9.10L11.75,-4.10Z" fill="#fff" stroke="none"/></pattern>
<rect x="546.6" y="633.6" width="17.20" height="27.30" fill="url(#hs1)" stroke="none"/>
<path d="M546.6,633.6V660.9M563.8,633.6V660.9" stroke-width="1.6"/>
<path d="M496.6,660.9V668.5H576.4V660.9" stroke-width="1.5"/>
<path d="M496.6,664.4H576.4" stroke-width="1.5"/>
<path d="M500.3,668.6V691.6M572.7,668.6V691.6" stroke-width="1.5"/>
<path d="M498.6,691.6H574.2L574.8,767.8H498Z" stroke-width="1.5"/>
<path d="M498,767.8H574.8" stroke-width="2.4"/>
<path d="M499.2,735.4H505.8V767.8M503.4,736V767.8" stroke-width="1.5"/>
<path d="M531,767.8V735.4H541.8V767.8M532.8,736V767.8M540,736V767.8" stroke-width="1.6"/>
<path d="M573.8,735.4H567V767.8M568.8,736V767.8" stroke-width="1.5"/>
<pattern id="hh1" patternUnits="userSpaceOnUse" x="532.2" y="768.6" width="17.40" height="6.3"><rect x="0" y="0" width="17.40" height="6.3" fill="#000"/><path d="M4.99,-5.52L11.19,-10.32L9.21,-12.88L3.01,-8.08ZM1.98,-7.29L-2.53,-3.80L-0.54,-1.23L3.97,-4.72ZM9.93,-12.20L16.63,-7.20L18.57,-9.80L11.87,-14.80ZM4.99,0.78L11.19,-4.02L9.21,-6.58L3.01,-1.78ZM1.98,-0.99L-2.53,2.50L-0.54,5.07L3.97,1.58ZM9.93,-5.90L16.63,-0.90L18.57,-3.50L11.87,-8.50ZM4.99,7.08L11.19,2.28L9.21,-0.28L3.01,4.52ZM1.98,5.31L-2.53,8.80L-0.54,11.37L3.97,7.88ZM9.93,0.40L16.63,5.40L18.57,2.80L11.87,-2.20ZM4.99,13.38L11.19,8.58L9.21,6.02L3.01,10.82ZM1.98,11.61L-2.53,15.10L-0.54,17.67L3.97,14.18ZM9.93,6.70L16.63,11.70L18.57,9.10L11.87,4.10ZM4.99,19.68L11.19,14.88L9.21,12.32L3.01,17.12ZM1.98,17.91L-2.53,21.40L-0.54,23.97L3.97,20.48ZM9.93,13.00L16.63,18.00L18.57,15.40L11.87,10.40Z" fill="#fff" stroke="none"/></pattern>
<rect x="532.2" y="768.6" width="17.40" height="83.00" fill="url(#hh1)" stroke="none"/>
<path d="M532.2,768.6V851.6M549.6,768.6V851.6" stroke-width="1.7"/>
<pattern id="hh2" patternUnits="userSpaceOnUse" x="532.2" y="854.6" width="17.40" height="6.3"><rect x="0" y="0" width="17.40" height="6.3" fill="#000"/><path d="M4.99,-5.52L11.19,-10.32L9.21,-12.88L3.01,-8.08ZM1.98,-7.29L-2.53,-3.80L-0.54,-1.23L3.97,-4.72ZM9.93,-12.20L16.63,-7.20L18.57,-9.80L11.87,-14.80ZM4.99,0.78L11.19,-4.02L9.21,-6.58L3.01,-1.78ZM1.98,-0.99L-2.53,2.50L-0.54,5.07L3.97,1.58ZM9.93,-5.90L16.63,-0.90L18.57,-3.50L11.87,-8.50ZM4.99,7.08L11.19,2.28L9.21,-0.28L3.01,4.52ZM1.98,5.31L-2.53,8.80L-0.54,11.37L3.97,7.88ZM9.93,0.40L16.63,5.40L18.57,2.80L11.87,-2.20ZM4.99,13.38L11.19,8.58L9.21,6.02L3.01,10.82ZM1.98,11.61L-2.53,15.10L-0.54,17.67L3.97,14.18ZM9.93,6.70L16.63,11.70L18.57,9.10L11.87,4.10ZM4.99,19.68L11.19,14.88L9.21,12.32L3.01,17.12ZM1.98,17.91L-2.53,21.40L-0.54,23.97L3.97,20.48ZM9.93,13.00L16.63,18.00L18.57,15.40L11.87,10.40Z" fill="#fff" stroke="none"/></pattern>
<rect x="532.2" y="854.6" width="17.40" height="22.60" fill="url(#hh2)" stroke="none"/>
<path d="M532.2,854.6V877.2M549.6,854.6V877.2" stroke-width="1.7"/>
<path d="M532.2,851.6Q536,850 540.9,851.6T549.6,851.6M532.2,854.6Q536,853 540.9,854.6T549.6,854.6" stroke-width="1.2"/>
<path d="M531.8,877.2V884.9H549.4V877.2H531.8" stroke-width="1.8"/>
<path d="M531.8,884.9V888.4H549.4V884.9" stroke-width="1.6"/>
<path d="M532.3,888.4V897.5H548.9V888.4" stroke-width="1.6"/>
<path d="M530.4,897.5H550.8Q552.3,899 550.8,900.6H530.4Q528.9,899 530.4,897.5Z" stroke-width="1.6"/>
<path d="M524.8,902.7H556.6Q557.6,902.7 557.6,904V911.5Q557.6,912.4 556.6,912.4H524.8Q523.8,912.4 523.8,911.5V904Q523.8,902.7 524.8,902.7Z" fill="#000" stroke="none"/>
<path d="M536.9000000000001,904.6H544.5L546.2,911H535.2Z" fill="#fff" stroke="none"/>
<path d="M525.3,905.8l1.8,-1.5M525.0999999999999,908.8l2.4,-2M525.0999999999999,911.4l2.2,-1.8M532.0999999999999,904.4l2.2,1.8M532.0999999999999,907.2l2.4,2M532.3,910.2l1.8,1.5M547.1,905.8l1.8,-1.5M546.9,908.8l2.4,-2M546.9,911.4l2.2,-1.8M553.9,904.4l2.2,1.8M553.9,907.2l2.4,2M554.1,910.2l1.8,1.5" stroke="#fff" stroke-width="0.8"/>
<path d="M526.3,912.4H555.1V920.3H526.3Z" fill="#000" stroke="none"/>
<rect x="530.0999999999999" y="913.6" width="21.20" height="4.8" fill="#fff" stroke="none"/>
<polygon points="759.4,633.4 784.7,633.4 784.7,660.9 759.8,660.9 761.6,652 758.6,644" fill="#fff" stroke-width="1.5"/>
<path d="M763.9,651.8h1.2v1.2h-1.2zM771.2,640.2h1.4v1.4h-1.4zM778.8,647.5h1.1v1.1h-1.1zM765.6,635.0h1.0v1.0h-1.0zM773.6,636.6h1.4v1.4h-1.4zM765.5,640.6h0.6v0.6h-0.6zM783.1,653.0h1.5v1.5h-1.5zM774.3,635.7h0.9v0.9h-0.9zM771.6,637.7h1.6v1.6h-1.6zM768.6,638.7h1.4v1.4h-1.4zM763.0,657.6h1.1v1.1h-1.1zM772.9,643.3h1.1v1.1h-1.1zM764.4,635.8h1.5v1.5h-1.5zM765.5,654.0h0.8v0.8h-0.8zM782.5,656.8h1.4v1.4h-1.4zM777.7,649.1h1.3v1.3h-1.3zM762.9,646.6h1.4v1.4h-1.4zM764.7,657.5h1.5v1.5h-1.5zM769.6,643.8h1.1v1.1h-1.1zM769.0,659.3h1.0v1.0h-1.0zM760.7,637.2h1.3v1.3h-1.3zM783.0,647.1h1.1v1.1h-1.1zM772.8,653.2h0.8v0.8h-0.8zM774.2,648.5h1.2v1.2h-1.2zM764.3,639.1h0.9v0.9h-0.9zM781.5,643.4h1.2v1.2h-1.2zM767.2,637.4h0.7v0.7h-0.7zM778.9,653.9h1.0v1.0h-1.0zM775.9,651.5h1.5v1.5h-1.5zM782.2,644.9h1.6v1.6h-1.6zM782.3,649.4h1.5v1.5h-1.5zM771.4,644.1h0.8v0.8h-0.8zM780.3,638.9h0.7v0.7h-0.7zM778.7,653.9h1.1v1.1h-1.1zM779.4,636.2h0.9v0.9h-0.9zM766.8,645.2h0.8v0.8h-0.8zM761.7,643.2h1.5v1.5h-1.5zM782.8,653.2h1.1v1.1h-1.1zM765.9,658.4h1.1v1.1h-1.1zM776.9,635.6h0.8v0.8h-0.8zM779.5,654.4h1.5v1.5h-1.5zM774.0,645.3h1.2v1.2h-1.2zM779.7,642.4h1.1v1.1h-1.1zM766.5,653.7h0.6v0.6h-0.6zM775.9,658.3h0.6v0.6h-0.6zM773.8,650.7h1.5v1.5h-1.5zM773.6,641.2h1.0v1.0h-1.0zM782.2,657.1h0.7v0.7h-0.7zM762.3,637.2h0.6v0.6h-0.6zM770.4,638.4h1.5v1.5h-1.5zM775.2,638.0h1.1v1.1h-1.1zM767.6,647.0h0.8v0.8h-0.8zM763.9,639.4h1.0v1.0h-1.0zM776.5,648.4h0.6v0.6h-0.6zM776.5,656.3h1.4v1.4h-1.4zM778.4,635.1h1.1v1.1h-1.1zM761.6,653.6h0.8v0.8h-0.8zM776.5,641.1h1.3v1.3h-1.3zM767.3,635.9h1.0v1.0h-1.0zM767.2,657.0h0.9v0.9h-0.9zM771.7,648.4h1.5v1.5h-1.5zM762.4,649.6h1.1v1.1h-1.1zM777.1,658.6h0.9v0.9h-0.9zM776.3,647.8h1.2v1.2h-1.2zM761.6,654.9h1.6v1.6h-1.6zM768.3,642.7h1.6v1.6h-1.6zM762.6,636.8h0.7v0.7h-0.7zM778.9,653.5h1.0v1.0h-1.0zM774.5,635.4h1.2v1.2h-1.2zM770.3,647.6h1.0v1.0h-1.0zM769.4,640.4h0.6v0.6h-0.6zM770.1,641.0h1.3v1.3h-1.3zM779.0,652.6h1.1v1.1h-1.1zM765.6,644.3h1.1v1.1h-1.1zM774.7,658.5h0.7v0.7h-0.7zM771.2,647.0h1.3v1.3h-1.3zM780.7,654.0h1.2v1.2h-1.2zM777.6,651.3h1.5v1.5h-1.5zM776.2,651.6h0.8v0.8h-0.8zM781.3,644.4h1.2v1.2h-1.2zM779.2,658.5h1.6v1.6h-1.6zM760.2,642.6h0.9v0.9h-0.9zM769.1,638.5h1.2v1.2h-1.2zM761.9,642.3h1.5v1.5h-1.5zM777.2,646.2h0.7v0.7h-0.7zM782.2,652.1h0.8v0.8h-0.8zM767.8,650.6h1.3v1.3h-1.3zM766.1,658.2h0.9v0.9h-0.9zM766.0,655.6h0.8v0.8h-0.8zM775.8,639.8h1.2v1.2h-1.2zM766.5,644.2h1.5v1.5h-1.5zM770.9,645.6h1.2v1.2h-1.2zM766.6,639.2h1.0v1.0h-1.0zM766.4,639.5h1.6v1.6h-1.6zM781.7,652.2h0.6v0.6h-0.6zM771.7,635.9h1.2v1.2h-1.2zM776.3,640.8h0.6v0.6h-0.6zM772.7,637.2h0.9v0.9h-0.9zM770.6,656.8h1.0v1.0h-1.0zM763.2,654.3h1.4v1.4h-1.4zM772.3,636.1h0.8v0.8h-0.8zM769.4,648.4h0.8v0.8h-0.8zM778.6,655.6h1.5v1.5h-1.5zM780.5,635.3h1.2v1.2h-1.2zM762.0,656.9h1.3v1.3h-1.3zM777.6,639.5h0.7v0.7h-0.7zM778.9,649.8h1.2v1.2h-1.2zM771.0,654.5h0.9v0.9h-0.9zM766.3,643.6h0.9v0.9h-0.9zM774.6,656.7h0.7v0.7h-0.7zM761.7,647.4h1.3v1.3h-1.3zM764.5,641.5h0.7v0.7h-0.7zM761.0,647.0h1.3v1.3h-1.3zM775.2,638.8h0.7v0.7h-0.7zM781.6,648.1h1.0v1.0h-1.0zM776.1,652.7h1.1v1.1h-1.1zM761.9,655.2h0.8v0.8h-0.8zM761.0,643.5h1.1v1.1h-1.1zM774.6,639.2h1.3v1.3h-1.3zM771.5,638.9h1.5v1.5h-1.5zM778.7,657.1h1.3v1.3h-1.3zM765.1,654.0h1.5v1.5h-1.5zM772.4,657.2h1.6v1.6h-1.6zM769.1,658.0h1.5v1.5h-1.5zM778.4,635.2h1.0v1.0h-1.0zM774.3,649.8h1.4v1.4h-1.4zM775.0,638.9h1.5v1.5h-1.5zM772.5,656.5h0.8v0.8h-0.8zM783.2,648.5h1.4v1.4h-1.4zM777.2,656.5h1.0v1.0h-1.0zM762.0,644.8h0.8v0.8h-0.8zM772.6,654.9h1.0v1.0h-1.0zM763.1,635.6h1.0v1.0h-1.0zM773.5,635.5h1.3v1.3h-1.3zM765.0,637.5h1.5v1.5h-1.5zM772.2,656.8h1.1v1.1h-1.1zM762.9,640.8h1.0v1.0h-1.0zM774.9,653.8h1.4v1.4h-1.4zM775.1,641.1h1.0v1.0h-1.0zM768.8,646.9h0.9v0.9h-0.9zM772.5,646.1h0.6v0.6h-0.6zM779.1,649.3h1.4v1.4h-1.4zM777.1,652.8h1.6v1.6h-1.6zM768.8,644.5h0.6v0.6h-0.6zM775.4,649.1h1.2v1.2h-1.2zM783.1,639.7h0.8v0.8h-0.8zM777.1,654.8h1.1v1.1h-1.1zM761.4,644.0h1.4v1.4h-1.4zM771.6,646.2h1.0v1.0h-1.0zM774.6,649.6h1.3v1.3h-1.3zM780.1,653.3h1.0v1.0h-1.0zM765.9,654.1h1.4v1.4h-1.4zM781.5,639.8h1.4v1.4h-1.4zM780.7,636.8h0.9v0.9h-0.9zM774.7,638.5h1.4v1.4h-1.4zM766.2,651.6h0.9v0.9h-0.9zM765.1,640.0h1.1v1.1h-1.1zM776.6,640.2h1.3v1.3h-1.3zM767.8,650.8h1.0v1.0h-1.0zM764.6,638.4h0.7v0.7h-0.7zM776.2,645.0h0.7v0.7h-0.7zM780.4,650.9h0.6v0.6h-0.6zM776.8,649.5h1.0v1.0h-1.0zM771.7,658.5h1.0v1.0h-1.0zM774.8,650.5h1.0v1.0h-1.0zM768.1,653.4h1.2v1.2h-1.2zM770.7,647.5h0.8v0.8h-0.8zM778.3,635.4h1.2v1.2h-1.2zM770.6,640.3h1.2v1.2h-1.2zM773.6,637.0h1.1v1.1h-1.1zM763.9,654.5h0.9v0.9h-0.9zM767.7,640.2h0.6v0.6h-0.6zM764.4,638.6h1.2v1.2h-1.2zM779.7,640.3h0.7v0.7h-0.7zM772.4,637.7h1.0v1.0h-1.0zM777.7,639.9h1.3v1.3h-1.3zM772.5,637.0h0.8v0.8h-0.8zM773.9,637.3h0.8v0.8h-0.8zM773.4,654.9h1.1v1.1h-1.1zM775.4,635.1h0.9v0.9h-0.9zM767.4,657.3h1.0v1.0h-1.0zM778.2,635.7h1.1v1.1h-1.1zM780.7,653.8h1.2v1.2h-1.2zM764.3,657.6h0.7v0.7h-0.7zM782.4,653.9h1.3v1.3h-1.3zM772.4,638.9h0.9v0.9h-0.9zM775.4,651.0h1.0v1.0h-1.0zM778.6,636.2h0.9v0.9h-0.9zM762.2,642.9h1.4v1.4h-1.4zM777.5,638.6h0.9v0.9h-0.9zM762.7,651.1h1.0v1.0h-1.0zM765.4,644.1h1.5v1.5h-1.5zM769.9,651.8h1.2v1.2h-1.2zM771.0,648.5h1.0v1.0h-1.0zM764.7,647.0h0.9v0.9h-0.9zM767.7,639.5h1.5v1.5h-1.5zM769.9,639.8h0.6v0.6h-0.6zM765.0,656.2h0.9v0.9h-0.9zM775.5,640.5h1.3v1.3h-1.3zM770.5,652.9h1.1v1.1h-1.1zM768.8,641.8h1.2v1.2h-1.2zM779.3,651.8h1.1v1.1h-1.1zM767.7,656.7h1.4v1.4h-1.4zM763.5,651.5h1.4v1.4h-1.4zM775.7,658.5h1.5v1.5h-1.5zM765.8,659.3h0.9v0.9h-0.9zM768.9,658.8h0.8v0.8h-0.8zM769.2,650.2h0.9v0.9h-0.9zM766.3,654.4h1.2v1.2h-1.2zM777.3,654.3h1.5v1.5h-1.5zM780.7,655.1h1.6v1.6h-1.6zM771.6,652.1h1.1v1.1h-1.1zM782.5,650.9h1.0v1.0h-1.0zM775.4,642.1h0.7v0.7h-0.7zM769.0,638.3h0.6v0.6h-0.6zM762.2,646.0h1.4v1.4h-1.4zM761.2,650.5h0.7v0.7h-0.7zM771.9,642.1h1.0v1.0h-1.0zM776.5,645.0h1.0v1.0h-1.0zM776.9,637.7h0.9v0.9h-0.9zM776.3,655.4h1.6v1.6h-1.6zM766.0,650.2h0.9v0.9h-0.9zM776.3,655.6h0.7v0.7h-0.7zM768.1,657.8h1.0v1.0h-1.0zM774.7,655.0h0.9v0.9h-0.9zM778.2,635.0h0.9v0.9h-0.9zM764.0,643.4h0.8v0.8h-0.8zM764.1,648.9h1.2v1.2h-1.2zM779.7,655.7h1.2v1.2h-1.2zM764.0,653.5h0.7v0.7h-0.7zM781.6,642.5h0.9v0.9h-0.9zM765.1,644.6h1.4v1.4h-1.4zM779.8,653.2h1.3v1.3h-1.3zM765.7,642.8h0.9v0.9h-0.9zM770.1,656.3h1.6v1.6h-1.6zM762.0,658.5h1.5v1.5h-1.5zM770.7,651.9h1.4v1.4h-1.4zM764.4,650.0h1.6v1.6h-1.6zM780.4,657.2h0.7v0.7h-0.7zM776.6,646.8h1.5v1.5h-1.5zM764.0,648.3h0.7v0.7h-0.7zM778.7,652.6h0.6v0.6h-0.6zM767.3,638.4h1.2v1.2h-1.2zM774.7,636.4h1.6v1.6h-1.6zM782.4,645.7h1.2v1.2h-1.2zM768.5,649.8h1.0v1.0h-1.0zM770.3,653.3h0.8v0.8h-0.8zM767.0,653.6h0.8v0.8h-0.8zM761.7,657.2h0.8v0.8h-0.8zM769.6,642.6h0.9v0.9h-0.9zM768.2,648.1h0.7v0.7h-0.7zM772.4,636.2h0.7v0.7h-0.7zM764.8,640.8h0.9v0.9h-0.9zM766.8,655.4h1.3v1.3h-1.3zM771.0,653.8h1.3v1.3h-1.3zM767.4,650.0h1.3v1.3h-1.3zM772.4,653.3h1.2v1.2h-1.2zM781.5,641.4h1.3v1.3h-1.3zM782.7,647.8h1.5v1.5h-1.5zM762.3,652.6h0.9v0.9h-0.9zM777.4,645.3h1.1v1.1h-1.1zM765.8,641.2h1.5v1.5h-1.5zM775.0,650.3h0.7v0.7h-0.7zM766.9,658.6h0.8v0.8h-0.8zM772.5,652.0h1.1v1.1h-1.1zM772.9,658.7h1.4v1.4h-1.4zM765.6,645.4h1.0v1.0h-1.0zM775.9,651.4h0.9v0.9h-0.9zM776.1,645.5h0.6v0.6h-0.6zM766.8,644.1h0.8v0.8h-0.8zM775.6,659.2h1.5v1.5h-1.5zM774.6,655.9h1.1v1.1h-1.1zM773.7,656.8h0.7v0.7h-0.7zM768.5,644.1h0.9v0.9h-0.9zM770.0,636.3h1.3v1.3h-1.3zM782.2,640.6h0.8v0.8h-0.8zM767.8,654.4h0.8v0.8h-0.8zM777.9,639.1h1.2v1.2h-1.2zM776.8,651.4h0.7v0.7h-0.7zM782.2,655.7h1.1v1.1h-1.1zM780.0,649.6h0.8v0.8h-0.8zM769.3,655.0h1.1v1.1h-1.1zM761.1,639.0h0.8v0.8h-0.8zM773.6,650.7h1.0v1.0h-1.0zM769.4,658.5h0.9v0.9h-0.9zM775.6,639.9h1.1v1.1h-1.1zM764.2,637.7h0.9v0.9h-0.9zM762.8,644.2h1.3v1.3h-1.3zM772.8,654.4h1.1v1.1h-1.1zM762.0,652.7h1.0v1.0h-1.0zM777.5,658.8h1.1v1.1h-1.1zM765.9,643.7h1.1v1.1h-1.1zM767.5,637.4h1.0v1.0h-1.0zM775.3,654.9h1.4v1.4h-1.4zM780.5,654.5h1.0v1.0h-1.0zM775.0,636.2h1.4v1.4h-1.4zM776.5,641.4h1.1v1.1h-1.1zM766.4,654.4h1.0v1.0h-1.0zM778.1,657.5h1.4v1.4h-1.4zM768.9,643.3h1.5v1.5h-1.5zM781.0,639.5h1.0v1.0h-1.0zM778.3,653.4h0.9v0.9h-0.9zM770.4,658.5h0.7v0.7h-0.7zM766.4,651.2h1.5v1.5h-1.5zM782.0,646.4h1.4v1.4h-1.4zM782.6,643.0h0.8v0.8h-0.8zM766.1,654.1h0.7v0.7h-0.7zM772.7,657.7h0.8v0.8h-0.8zM774.6,647.9h1.6v1.6h-1.6zM772.0,646.9h1.5v1.5h-1.5zM777.5,638.5h1.4v1.4h-1.4zM769.3,658.6h1.6v1.6h-1.6zM771.5,645.1h0.8v0.8h-0.8zM766.5,639.9h0.8v0.8h-0.8zM777.0,636.2h1.2v1.2h-1.2zM773.9,652.9h1.2v1.2h-1.2zM781.5,641.8h0.7v0.7h-0.7zM773.6,641.5h1.6v1.6h-1.6zM781.4,651.7h1.4v1.4h-1.4zM765.7,646.8h1.0v1.0h-1.0zM768.1,644.1h1.1v1.1h-1.1zM775.2,635.5h1.1v1.1h-1.1zM763.1,658.6h1.2v1.2h-1.2zM773.7,642.6h1.3v1.3h-1.3zM776.5,657.2h1.2v1.2h-1.2zM766.3,650.3h0.7v0.7h-0.7zM777.3,642.4h1.3v1.3h-1.3zM763.1,649.5h0.8v0.8h-0.8zM760.9,641.4h1.4v1.4h-1.4zM769.1,647.7h1.4v1.4h-1.4zM782.7,641.2h1.3v1.3h-1.3zM778.2,654.3h0.9v0.9h-0.9zM771.1,654.1h0.9v0.9h-0.9zM771.3,650.4h1.5v1.5h-1.5zM765.7,651.2h0.8v0.8h-0.8zM763.7,646.6h1.2v1.2h-1.2zM774.9,658.1h0.8v0.8h-0.8zM772.4,646.7h0.9v0.9h-0.9zM781.3,638.4h0.9v0.9h-0.9zM775.3,640.4h1.5v1.5h-1.5zM774.8,639.8h1.5v1.5h-1.5zM779.8,642.6h1.5v1.5h-1.5zM763.1,643.4h1.0v1.0h-1.0zM782.2,642.2h1.0v1.0h-1.0zM764.9,655.0h0.8v0.8h-0.8zM779.7,643.3h1.1v1.1h-1.1zM780.3,641.4h1.1v1.1h-1.1zM774.8,649.1h1.0v1.0h-1.0zM775.0,642.6h0.8v0.8h-0.8zM773.4,654.5h0.8v0.8h-0.8zM775.6,646.0h1.1v1.1h-1.1zM779.3,647.6h1.0v1.0h-1.0zM775.0,638.5h1.5v1.5h-1.5zM772.1,635.9h1.1v1.1h-1.1zM781.9,658.9h1.0v1.0h-1.0zM766.2,657.8h0.9v0.9h-0.9zM760.5,641.0h1.1v1.1h-1.1zM775.7,636.5h0.9v0.9h-0.9zM776.9,643.3h0.8v0.8h-0.8zM776.5,645.6h1.3v1.3h-1.3zM771.3,654.8h1.1v1.1h-1.1zM782.6,654.8h1.3v1.3h-1.3zM771.4,649.8h1.0v1.0h-1.0zM761.9,656.6h1.4v1.4h-1.4zM777.8,655.9h1.2v1.2h-1.2zM783.1,646.5h1.6v1.6h-1.6zM762.0,644.2h1.2v1.2h-1.2zM779.0,647.7h1.4v1.4h-1.4zM768.7,651.5h1.4v1.4h-1.4zM774.0,635.4h1.3v1.3h-1.3zM760.1,642.3h0.7v0.7h-0.7zM777.7,639.0h1.3v1.3h-1.3zM761.8,640.0h1.3v1.3h-1.3zM781.5,636.7h1.2v1.2h-1.2zM769.3,650.1h0.7v0.7h-0.7zM760.5,636.8h1.5v1.5h-1.5zM771.4,649.9h0.7v0.7h-0.7zM775.9,657.0h0.8v0.8h-0.8zM778.1,655.7h1.6v1.6h-1.6zM773.2,650.7h0.9v0.9h-0.9zM778.1,642.5h1.2v1.2h-1.2zM774.6,659.1h1.4v1.4h-1.4zM762.3,639.2h1.0v1.0h-1.0zM769.3,652.5h0.9v0.9h-0.9zM773.0,646.0h0.9v0.9h-0.9zM774.9,645.5h1.6v1.6h-1.6zM763.1,656.9h1.2v1.2h-1.2zM770.7,636.8h1.2v1.2h-1.2zM778.7,643.5h1.3v1.3h-1.3zM772.4,637.1h1.5v1.5h-1.5zM767.3,646.7h1.4v1.4h-1.4zM780.3,655.8h1.0v1.0h-1.0zM779.7,638.6h1.2v1.2h-1.2zM770.1,656.1h1.3v1.3h-1.3zM775.3,654.8h0.9v0.9h-0.9zM770.4,637.4h1.0v1.0h-1.0zM764.7,652.8h0.7v0.7h-0.7zM781.2,649.6h1.0v1.0h-1.0zM762.9,645.8h1.2v1.2h-1.2zM763.4,658.8h1.0v1.0h-1.0zM770.1,641.9h1.0v1.0h-1.0zM766.5,655.8h0.7v0.7h-0.7zM768.5,649.5h1.1v1.1h-1.1zM767.6,646.8h0.7v0.7h-0.7zM767.2,645.6h1.4v1.4h-1.4zM770.0,645.1h1.3v1.3h-1.3zM766.5,648.4h0.8v0.8h-0.8zM774.4,648.1h1.3v1.3h-1.3zM780.3,654.4h1.6v1.6h-1.6zM765.5,658.3h1.0v1.0h-1.0zM768.6,646.0h1.5v1.5h-1.5zM782.1,654.6h0.9v0.9h-0.9zM762.8,639.9h1.3v1.3h-1.3zM776.3,636.5h0.6v0.6h-0.6zM783.1,643.2h0.6v0.6h-0.6zM770.9,637.3h1.4v1.4h-1.4zM772.3,649.9h1.5v1.5h-1.5zM763.0,640.2h1.4v1.4h-1.4zM774.1,645.6h1.0v1.0h-1.0zM774.4,658.0h1.5v1.5h-1.5zM781.3,658.9h0.7v0.7h-0.7zM765.8,647.7h1.1v1.1h-1.1zM782.6,645.7h0.7v0.7h-0.7zM764.8,657.0h1.4v1.4h-1.4zM763.3,658.5h1.0v1.0h-1.0zM776.9,648.7h1.5v1.5h-1.5zM771.4,635.6h1.2v1.2h-1.2zM779.8,645.0h1.4v1.4h-1.4zM770.4,643.7h1.0v1.0h-1.0zM765.4,647.2h1.6v1.6h-1.6zM773.7,653.7h0.8v0.8h-0.8zM768.6,649.1h1.0v1.0h-1.0zM763.1,651.0h1.6v1.6h-1.6zM766.8,641.5h0.9v0.9h-0.9zM772.6,658.9h0.7v0.7h-0.7zM765.8,656.9h0.9v0.9h-0.9zM775.5,652.6h0.6v0.6h-0.6zM781.3,651.9h1.1v1.1h-1.1zM762.4,647.8h0.7v0.7h-0.7zM767.6,635.8h1.1v1.1h-1.1zM770.9,641.9h0.8v0.8h-0.8zM761.6,635.6h0.7v0.7h-0.7zM782.8,635.7h1.3v1.3h-1.3zM770.6,649.3h0.9v0.9h-0.9zM782.8,654.7h1.0v1.0h-1.0zM770.1,657.4h0.8v0.8h-0.8zM780.3,650.1h1.2v1.2h-1.2zM772.4,649.4h0.7v0.7h-0.7zM765.9,643.6h0.8v0.8h-0.8zM762.1,652.4h1.0v1.0h-1.0zM777.2,644.5h1.5v1.5h-1.5zM765.7,647.5h1.0v1.0h-1.0zM778.4,638.1h1.1v1.1h-1.1zM770.6,650.2h0.8v0.8h-0.8zM772.6,659.0h0.7v0.7h-0.7zM782.5,658.6h1.0v1.0h-1.0zM762.0,647.1h1.6v1.6h-1.6zM778.1,637.7h1.2v1.2h-1.2zM763.5,637.3h1.1v1.1h-1.1zM767.0,651.0h1.1v1.1h-1.1zM765.4,657.4h0.6v0.6h-0.6zM778.6,641.8h1.5v1.5h-1.5zM774.1,646.1h0.8v0.8h-0.8zM779.9,655.9h1.6v1.6h-1.6zM773.7,657.6h1.5v1.5h-1.5zM775.5,643.2h1.2v1.2h-1.2zM768.0,654.8h1.2v1.2h-1.2zM780.1,656.8h1.4v1.4h-1.4zM764.8,643.1h0.7v0.7h-0.7zM767.8,638.8h0.9v0.9h-0.9zM778.4,637.8h1.5v1.5h-1.5zM781.4,653.8h0.8v0.8h-0.8zM766.8,646.1h1.2v1.2h-1.2zM781.5,635.4h0.7v0.7h-0.7zM779.1,635.5h1.5v1.5h-1.5zM764.4,658.8h1.1v1.1h-1.1zM774.1,655.1h1.4v1.4h-1.4zM769.7,646.2h1.4v1.4h-1.4zM766.0,642.4h1.5v1.5h-1.5zM780.5,655.2h0.9v0.9h-0.9zM768.0,637.5h1.4v1.4h-1.4zM761.2,639.4h0.6v0.6h-0.6zM770.7,659.3h0.7v0.7h-0.7zM765.9,641.5h1.3v1.3h-1.3zM768.3,639.2h1.3v1.3h-1.3zM780.9,638.9h0.7v0.7h-0.7zM769.5,657.8h0.7v0.7h-0.7zM763.3,650.7h1.4v1.4h-1.4zM770.5,636.0h1.2v1.2h-1.2zM762.4,636.7h0.7v0.7h-0.7zM781.7,637.4h1.1v1.1h-1.1zM779.1,639.8h1.0v1.0h-1.0zM778.4,648.7h0.8v0.8h-0.8zM772.5,659.3h1.4v1.4h-1.4zM782.3,635.5h0.7v0.7h-0.7zM771.7,635.2h1.6v1.6h-1.6zM766.8,648.4h1.5v1.5h-1.5zM769.9,653.7h0.8v0.8h-0.8zM770.4,652.7h1.1v1.1h-1.1zM764.4,655.9h1.0v1.0h-1.0zM781.2,642.6h1.4v1.4h-1.4zM763.0,651.4h1.6v1.6h-1.6zM774.6,645.0h1.6v1.6h-1.6zM782.4,655.0h0.8v0.8h-0.8zM762.2,649.9h0.7v0.7h-0.7zM761.5,648.5h1.5v1.5h-1.5zM766.4,655.0h1.6v1.6h-1.6zM781.9,636.9h0.7v0.7h-0.7zM782.2,658.5h0.8v0.8h-0.8zM764.3,652.4h0.7v0.7h-0.7zM762.5,638.8h1.2v1.2h-1.2zM768.7,655.5h0.8v0.8h-0.8zM780.8,654.2h1.0v1.0h-1.0zM774.1,651.5h0.7v0.7h-0.7zM781.6,645.7h1.1v1.1h-1.1zM779.8,635.4h0.9v0.9h-0.9zM765.1,652.5h1.3v1.3h-1.3zM783.1,639.3h1.0v1.0h-1.0zM778.3,645.8h0.8v0.8h-0.8zM775.7,654.4h1.0v1.0h-1.0zM768.9,638.1h1.0v1.0h-1.0zM779.5,643.6h1.6v1.6h-1.6zM768.4,646.6h1.4v1.4h-1.4zM781.2,655.6h1.0v1.0h-1.0zM770.5,638.1h1.1v1.1h-1.1zM779.0,639.6h0.9v0.9h-0.9zM761.6,646.0h1.1v1.1h-1.1zM783.0,651.3h1.5v1.5h-1.5zM764.7,645.6h1.3v1.3h-1.3z" fill="#000" stroke="none"/>
<polygon points="838.6,633.4 860.6,633.4 858.8,642 861.2,650 859.6,660.9 838.6,660.9" fill="#fff" stroke-width="1.5"/>
<path d="M858.9,638.3h0.6v0.6h-0.6zM842.5,650.9h0.9v0.9h-0.9zM857.5,640.6h1.6v1.6h-1.6zM846.4,649.6h1.5v1.5h-1.5zM853.5,657.5h1.3v1.3h-1.3zM841.0,656.5h1.2v1.2h-1.2zM846.2,639.6h1.4v1.4h-1.4zM851.5,657.9h1.4v1.4h-1.4zM858.9,648.8h1.3v1.3h-1.3zM852.1,641.2h1.6v1.6h-1.6zM846.2,654.0h1.6v1.6h-1.6zM852.9,638.4h1.4v1.4h-1.4zM853.2,639.4h0.6v0.6h-0.6zM850.5,635.7h1.5v1.5h-1.5zM850.0,647.6h1.0v1.0h-1.0zM853.1,657.4h0.9v0.9h-0.9zM847.4,649.2h0.9v0.9h-0.9zM851.8,648.2h1.0v1.0h-1.0zM853.3,647.8h0.7v0.7h-0.7zM848.6,644.8h1.5v1.5h-1.5zM858.8,647.4h1.0v1.0h-1.0zM842.0,656.8h0.8v0.8h-0.8zM850.8,643.5h0.9v0.9h-0.9zM847.1,639.6h0.6v0.6h-0.6zM850.6,654.4h1.2v1.2h-1.2zM844.0,651.9h0.7v0.7h-0.7zM848.2,655.2h1.5v1.5h-1.5zM849.1,655.6h1.1v1.1h-1.1zM850.4,649.2h1.6v1.6h-1.6zM854.7,646.5h1.3v1.3h-1.3zM852.7,643.6h1.4v1.4h-1.4zM856.2,649.8h1.5v1.5h-1.5zM840.5,647.2h1.2v1.2h-1.2zM846.8,639.1h1.3v1.3h-1.3zM848.6,641.5h0.6v0.6h-0.6zM859.1,643.5h0.7v0.7h-0.7zM844.3,641.1h1.5v1.5h-1.5zM843.6,641.7h0.7v0.7h-0.7zM849.3,640.0h0.9v0.9h-0.9zM854.5,657.6h1.4v1.4h-1.4zM840.9,644.2h1.4v1.4h-1.4zM840.7,639.9h1.1v1.1h-1.1zM847.6,653.3h1.3v1.3h-1.3zM849.2,641.0h0.8v0.8h-0.8zM845.3,636.5h1.3v1.3h-1.3zM843.2,656.7h1.2v1.2h-1.2zM841.2,647.1h1.2v1.2h-1.2zM840.9,646.8h0.6v0.6h-0.6zM855.1,635.0h1.2v1.2h-1.2zM859.4,655.6h0.8v0.8h-0.8zM850.6,638.3h0.9v0.9h-0.9zM857.0,654.9h0.6v0.6h-0.6zM847.5,650.6h0.8v0.8h-0.8zM855.8,656.8h1.2v1.2h-1.2zM847.2,655.7h1.1v1.1h-1.1zM843.8,641.7h0.8v0.8h-0.8zM856.5,647.4h1.3v1.3h-1.3zM856.1,658.8h0.8v0.8h-0.8zM848.1,656.3h1.4v1.4h-1.4zM847.7,651.0h0.8v0.8h-0.8zM843.3,636.1h1.0v1.0h-1.0zM844.7,647.6h1.6v1.6h-1.6zM843.1,648.6h1.5v1.5h-1.5zM851.8,647.8h1.4v1.4h-1.4zM840.5,658.1h1.3v1.3h-1.3zM855.9,655.1h0.7v0.7h-0.7zM841.4,639.3h1.1v1.1h-1.1zM858.5,657.2h1.0v1.0h-1.0zM852.3,653.0h0.9v0.9h-0.9zM859.1,658.0h1.3v1.3h-1.3zM857.8,654.5h1.3v1.3h-1.3zM846.4,641.8h0.8v0.8h-0.8zM841.2,657.6h0.9v0.9h-0.9zM840.6,642.6h0.7v0.7h-0.7zM848.8,643.0h0.8v0.8h-0.8zM849.4,645.1h1.0v1.0h-1.0zM856.0,642.4h1.1v1.1h-1.1zM857.3,658.4h1.0v1.0h-1.0zM840.9,658.2h1.1v1.1h-1.1zM844.4,638.0h0.8v0.8h-0.8zM846.2,638.3h0.6v0.6h-0.6zM859.6,655.0h0.7v0.7h-0.7zM849.5,654.5h1.1v1.1h-1.1zM841.5,643.2h1.0v1.0h-1.0zM858.0,649.2h1.1v1.1h-1.1zM852.5,636.1h1.3v1.3h-1.3zM855.9,651.3h1.0v1.0h-1.0zM845.7,635.1h0.7v0.7h-0.7zM843.1,646.0h1.4v1.4h-1.4zM844.4,646.5h1.2v1.2h-1.2zM852.4,635.4h1.5v1.5h-1.5zM851.6,642.3h0.8v0.8h-0.8zM853.6,657.8h0.9v0.9h-0.9zM847.9,648.5h0.8v0.8h-0.8zM848.1,657.4h1.2v1.2h-1.2zM856.2,641.3h1.5v1.5h-1.5zM855.4,640.4h1.1v1.1h-1.1zM853.5,648.9h1.2v1.2h-1.2zM844.8,648.5h1.0v1.0h-1.0zM855.7,644.0h1.6v1.6h-1.6zM851.5,640.5h1.0v1.0h-1.0zM842.6,652.9h0.6v0.6h-0.6zM852.0,642.4h1.4v1.4h-1.4zM842.6,651.6h1.3v1.3h-1.3zM844.7,638.1h1.0v1.0h-1.0zM852.8,641.3h0.6v0.6h-0.6zM848.8,654.7h0.8v0.8h-0.8zM858.5,647.4h0.8v0.8h-0.8zM842.1,644.0h1.1v1.1h-1.1zM843.5,637.0h1.1v1.1h-1.1zM845.1,645.8h1.1v1.1h-1.1zM853.8,649.1h0.8v0.8h-0.8zM843.6,655.9h0.7v0.7h-0.7zM842.5,636.6h1.4v1.4h-1.4zM850.7,657.5h1.2v1.2h-1.2zM846.7,645.4h1.3v1.3h-1.3zM844.6,654.6h1.0v1.0h-1.0zM840.9,643.3h1.2v1.2h-1.2zM843.0,657.1h1.5v1.5h-1.5zM850.1,657.1h1.3v1.3h-1.3zM850.6,638.8h1.6v1.6h-1.6zM858.1,646.0h1.0v1.0h-1.0zM841.5,650.1h1.5v1.5h-1.5zM847.7,642.0h1.2v1.2h-1.2zM855.6,639.1h0.9v0.9h-0.9zM852.7,635.9h1.4v1.4h-1.4zM846.3,655.3h1.1v1.1h-1.1zM843.3,635.4h0.7v0.7h-0.7zM845.2,653.5h1.4v1.4h-1.4zM852.5,642.4h1.3v1.3h-1.3zM854.5,643.9h0.7v0.7h-0.7zM849.3,640.3h0.8v0.8h-0.8zM847.8,636.7h1.5v1.5h-1.5zM845.6,656.9h1.3v1.3h-1.3zM840.3,656.9h1.4v1.4h-1.4zM850.4,656.6h1.1v1.1h-1.1zM840.6,638.6h0.9v0.9h-0.9zM856.9,655.2h0.7v0.7h-0.7zM847.0,637.6h0.8v0.8h-0.8zM847.0,645.1h0.7v0.7h-0.7zM853.0,640.8h1.5v1.5h-1.5zM849.5,645.4h1.4v1.4h-1.4zM846.9,641.2h0.7v0.7h-0.7zM845.9,640.6h1.3v1.3h-1.3zM847.1,652.2h0.9v0.9h-0.9zM841.5,642.4h1.0v1.0h-1.0zM857.9,639.8h0.8v0.8h-0.8zM843.2,641.1h1.6v1.6h-1.6zM858.4,640.5h0.6v0.6h-0.6zM849.6,649.2h0.7v0.7h-0.7zM848.3,653.7h0.6v0.6h-0.6zM854.2,651.7h1.4v1.4h-1.4zM849.6,646.3h1.1v1.1h-1.1zM842.8,647.5h0.8v0.8h-0.8zM846.4,636.0h0.8v0.8h-0.8zM841.2,648.2h0.8v0.8h-0.8zM851.0,647.2h0.8v0.8h-0.8zM842.6,649.5h1.3v1.3h-1.3zM853.6,647.3h1.2v1.2h-1.2zM840.6,642.4h1.4v1.4h-1.4zM847.5,637.4h1.0v1.0h-1.0zM856.4,637.3h0.7v0.7h-0.7zM849.9,656.3h1.0v1.0h-1.0zM845.0,653.7h0.7v0.7h-0.7zM845.9,649.6h1.4v1.4h-1.4zM857.0,642.9h0.9v0.9h-0.9zM847.2,637.9h0.9v0.9h-0.9zM855.1,658.9h0.9v0.9h-0.9zM841.5,653.0h1.6v1.6h-1.6zM855.7,645.0h1.3v1.3h-1.3zM855.0,653.1h1.1v1.1h-1.1zM859.7,654.0h0.8v0.8h-0.8zM848.5,637.1h1.0v1.0h-1.0zM856.1,646.8h1.1v1.1h-1.1zM855.4,637.0h1.0v1.0h-1.0zM849.6,647.0h1.3v1.3h-1.3zM858.5,654.5h1.1v1.1h-1.1zM853.5,648.1h1.6v1.6h-1.6zM851.8,649.5h1.0v1.0h-1.0zM848.3,653.6h1.0v1.0h-1.0zM857.8,652.7h1.6v1.6h-1.6zM854.0,648.9h1.0v1.0h-1.0zM840.5,651.1h1.4v1.4h-1.4zM854.3,653.5h0.6v0.6h-0.6zM853.5,641.8h1.0v1.0h-1.0zM857.1,644.8h1.1v1.1h-1.1zM841.1,639.3h0.8v0.8h-0.8zM844.3,647.7h0.6v0.6h-0.6zM841.8,637.0h1.3v1.3h-1.3zM859.1,653.3h1.1v1.1h-1.1zM842.7,654.1h0.7v0.7h-0.7zM841.6,647.4h1.5v1.5h-1.5zM846.2,656.1h0.9v0.9h-0.9zM859.0,653.0h1.5v1.5h-1.5zM859.4,654.9h0.8v0.8h-0.8zM850.2,648.2h1.3v1.3h-1.3zM844.6,649.0h0.9v0.9h-0.9zM843.7,645.9h1.4v1.4h-1.4zM851.0,643.6h0.8v0.8h-0.8zM847.1,644.7h0.9v0.9h-0.9zM846.2,640.5h0.9v0.9h-0.9zM853.3,650.2h1.2v1.2h-1.2zM858.2,651.2h0.7v0.7h-0.7zM848.0,647.7h1.3v1.3h-1.3zM850.5,637.2h1.1v1.1h-1.1zM852.9,654.1h1.0v1.0h-1.0zM844.3,635.7h1.1v1.1h-1.1zM854.8,637.6h1.1v1.1h-1.1zM851.8,648.6h0.8v0.8h-0.8zM841.9,635.4h0.9v0.9h-0.9zM857.7,645.2h1.6v1.6h-1.6zM856.3,649.2h1.0v1.0h-1.0zM851.1,655.5h0.9v0.9h-0.9zM843.2,656.9h1.2v1.2h-1.2zM847.5,644.7h0.7v0.7h-0.7zM851.2,654.2h1.1v1.1h-1.1zM853.8,653.0h0.9v0.9h-0.9zM852.6,658.7h1.3v1.3h-1.3zM843.7,651.1h1.2v1.2h-1.2zM855.3,652.1h1.5v1.5h-1.5zM849.5,636.0h1.6v1.6h-1.6zM842.2,645.3h1.2v1.2h-1.2zM848.5,639.1h1.1v1.1h-1.1zM844.5,646.9h1.3v1.3h-1.3zM846.0,645.8h1.2v1.2h-1.2zM850.5,654.5h1.5v1.5h-1.5zM859.1,638.9h1.1v1.1h-1.1zM842.4,652.0h1.0v1.0h-1.0zM856.8,646.7h1.4v1.4h-1.4zM840.7,649.9h1.0v1.0h-1.0zM856.4,637.4h0.7v0.7h-0.7zM853.6,642.9h1.0v1.0h-1.0zM848.0,659.0h1.2v1.2h-1.2zM856.4,655.5h1.5v1.5h-1.5zM848.9,642.0h1.1v1.1h-1.1zM857.6,656.5h1.1v1.1h-1.1zM857.9,653.6h0.6v0.6h-0.6zM852.5,654.3h0.6v0.6h-0.6zM847.5,650.7h1.1v1.1h-1.1zM850.5,637.1h0.9v0.9h-0.9zM857.1,643.5h1.1v1.1h-1.1zM851.7,641.8h1.0v1.0h-1.0zM850.0,656.2h1.4v1.4h-1.4zM843.6,647.2h1.4v1.4h-1.4zM857.7,647.9h1.2v1.2h-1.2zM852.8,651.3h1.5v1.5h-1.5zM859.4,659.2h0.7v0.7h-0.7zM854.1,644.4h0.9v0.9h-0.9zM842.1,657.2h1.5v1.5h-1.5zM850.5,647.1h0.8v0.8h-0.8zM858.3,653.5h0.8v0.8h-0.8zM851.3,659.3h0.9v0.9h-0.9zM847.4,643.8h1.0v1.0h-1.0zM842.4,650.3h0.8v0.8h-0.8zM853.4,646.4h1.4v1.4h-1.4zM854.7,655.9h0.8v0.8h-0.8zM855.7,653.9h0.9v0.9h-0.9zM840.1,637.3h1.4v1.4h-1.4zM859.1,636.6h0.8v0.8h-0.8zM848.0,636.6h1.2v1.2h-1.2zM856.9,655.5h0.8v0.8h-0.8zM857.9,654.1h0.8v0.8h-0.8zM856.8,657.7h1.5v1.5h-1.5zM854.8,654.9h1.1v1.1h-1.1zM840.3,651.5h1.1v1.1h-1.1zM843.0,638.2h1.5v1.5h-1.5zM857.8,636.2h0.6v0.6h-0.6zM853.8,642.0h1.5v1.5h-1.5zM849.2,652.3h0.6v0.6h-0.6zM855.3,639.8h1.0v1.0h-1.0zM849.6,642.9h0.8v0.8h-0.8zM848.9,636.2h0.8v0.8h-0.8zM842.7,655.8h0.9v0.9h-0.9zM859.4,657.0h0.8v0.8h-0.8zM856.9,659.1h1.0v1.0h-1.0zM849.6,651.4h1.1v1.1h-1.1zM845.3,652.8h0.8v0.8h-0.8zM847.6,635.5h0.9v0.9h-0.9zM855.9,638.3h0.8v0.8h-0.8zM847.9,642.2h0.6v0.6h-0.6zM841.2,639.8h1.4v1.4h-1.4zM855.3,654.7h1.3v1.3h-1.3zM854.0,645.9h1.6v1.6h-1.6zM848.8,652.6h1.4v1.4h-1.4zM859.0,653.6h0.9v0.9h-0.9zM852.8,654.4h1.5v1.5h-1.5zM844.9,652.8h1.3v1.3h-1.3zM843.2,637.8h1.2v1.2h-1.2zM851.8,643.0h1.2v1.2h-1.2zM843.0,648.9h1.1v1.1h-1.1zM856.4,652.5h0.7v0.7h-0.7zM851.0,638.0h1.1v1.1h-1.1zM853.4,652.2h0.6v0.6h-0.6zM850.5,639.2h1.1v1.1h-1.1zM849.8,646.9h1.4v1.4h-1.4zM845.9,646.6h0.8v0.8h-0.8zM844.0,650.4h0.8v0.8h-0.8zM855.8,644.1h0.7v0.7h-0.7zM855.5,635.4h0.9v0.9h-0.9zM852.9,635.3h1.3v1.3h-1.3zM851.1,658.8h0.9v0.9h-0.9zM856.4,658.9h1.1v1.1h-1.1zM841.6,643.3h1.4v1.4h-1.4zM840.1,650.4h1.1v1.1h-1.1zM854.6,644.0h1.5v1.5h-1.5zM842.3,645.1h0.9v0.9h-0.9zM851.1,640.2h1.0v1.0h-1.0zM848.9,657.5h0.6v0.6h-0.6zM845.7,638.5h1.3v1.3h-1.3zM855.2,635.3h1.4v1.4h-1.4zM857.4,646.2h1.2v1.2h-1.2zM855.6,657.6h0.8v0.8h-0.8zM854.0,636.8h1.0v1.0h-1.0zM858.0,650.3h1.1v1.1h-1.1zM848.8,646.1h0.6v0.6h-0.6zM851.1,658.0h0.7v0.7h-0.7zM840.8,650.2h1.4v1.4h-1.4zM848.5,637.0h1.2v1.2h-1.2zM853.0,640.6h1.4v1.4h-1.4zM850.7,654.2h0.8v0.8h-0.8zM847.2,651.1h1.3v1.3h-1.3zM856.7,658.0h1.3v1.3h-1.3zM840.3,646.3h1.3v1.3h-1.3zM855.4,642.6h0.7v0.7h-0.7zM851.5,639.6h1.1v1.1h-1.1zM844.6,656.4h0.6v0.6h-0.6zM851.0,656.4h1.2v1.2h-1.2zM843.0,648.3h1.4v1.4h-1.4zM852.5,657.1h1.4v1.4h-1.4zM847.6,637.9h1.3v1.3h-1.3zM849.5,654.9h1.0v1.0h-1.0zM854.2,638.4h1.4v1.4h-1.4zM857.1,654.7h1.4v1.4h-1.4zM853.3,639.1h0.9v0.9h-0.9zM845.6,642.1h1.2v1.2h-1.2zM847.2,651.0h1.5v1.5h-1.5zM859.6,635.0h1.2v1.2h-1.2zM851.5,645.5h1.3v1.3h-1.3zM857.4,640.9h1.2v1.2h-1.2zM843.2,645.7h1.0v1.0h-1.0zM856.2,657.2h1.5v1.5h-1.5zM850.3,652.3h1.3v1.3h-1.3zM850.7,638.2h0.9v0.9h-0.9zM858.8,649.5h0.7v0.7h-0.7zM847.1,638.2h0.7v0.7h-0.7zM847.6,642.1h0.6v0.6h-0.6zM849.8,657.7h1.1v1.1h-1.1zM847.9,644.2h0.9v0.9h-0.9zM846.5,639.7h1.0v1.0h-1.0zM858.0,643.9h1.5v1.5h-1.5zM849.9,650.5h1.1v1.1h-1.1zM847.8,656.6h1.2v1.2h-1.2zM843.8,642.4h1.0v1.0h-1.0zM851.2,644.1h0.9v0.9h-0.9zM846.1,659.2h1.3v1.3h-1.3zM857.0,656.8h0.7v0.7h-0.7zM850.6,652.6h1.1v1.1h-1.1zM850.5,650.4h1.2v1.2h-1.2zM843.5,636.2h0.9v0.9h-0.9zM840.8,642.5h0.6v0.6h-0.6zM842.2,651.0h0.8v0.8h-0.8zM854.1,645.2h1.4v1.4h-1.4zM851.0,656.3h1.0v1.0h-1.0zM848.3,657.7h1.3v1.3h-1.3zM848.5,656.3h1.3v1.3h-1.3zM852.7,635.6h1.5v1.5h-1.5zM842.2,635.3h0.9v0.9h-0.9zM843.9,640.8h1.1v1.1h-1.1zM850.0,651.6h1.5v1.5h-1.5zM853.7,656.1h1.0v1.0h-1.0zM843.0,652.3h1.6v1.6h-1.6zM843.4,649.9h1.0v1.0h-1.0zM859.4,635.7h1.1v1.1h-1.1zM847.1,643.9h1.3v1.3h-1.3zM840.1,641.6h1.6v1.6h-1.6zM849.1,635.2h1.2v1.2h-1.2zM853.0,657.6h1.5v1.5h-1.5zM858.7,641.4h0.9v0.9h-0.9zM853.8,643.4h1.0v1.0h-1.0zM840.9,639.8h0.7v0.7h-0.7zM847.4,652.1h0.8v0.8h-0.8zM845.7,636.9h1.0v1.0h-1.0zM851.6,649.6h1.2v1.2h-1.2zM850.6,651.9h1.4v1.4h-1.4zM856.6,634.9h1.5v1.5h-1.5zM849.5,659.2h1.4v1.4h-1.4zM849.2,636.0h0.7v0.7h-0.7zM855.3,635.1h0.7v0.7h-0.7zM853.8,649.8h1.3v1.3h-1.3zM841.4,658.4h1.3v1.3h-1.3zM840.3,648.9h0.9v0.9h-0.9zM844.7,649.9h1.6v1.6h-1.6zM840.7,654.6h1.5v1.5h-1.5zM841.8,656.9h0.6v0.6h-0.6zM846.4,635.5h0.8v0.8h-0.8zM843.5,648.7h1.0v1.0h-1.0zM859.1,653.4h0.7v0.7h-0.7zM841.5,641.7h1.4v1.4h-1.4zM855.8,655.4h1.5v1.5h-1.5zM854.4,648.6h1.4v1.4h-1.4zM856.2,654.9h1.5v1.5h-1.5zM850.5,637.0h1.2v1.2h-1.2zM853.8,658.1h1.3v1.3h-1.3zM857.7,657.3h0.9v0.9h-0.9zM858.2,648.8h1.0v1.0h-1.0zM848.8,647.1h1.0v1.0h-1.0zM854.2,641.2h1.0v1.0h-1.0zM852.8,658.7h1.3v1.3h-1.3zM851.0,644.1h1.3v1.3h-1.3zM858.2,635.3h1.0v1.0h-1.0zM845.7,653.9h1.3v1.3h-1.3zM840.2,656.9h1.0v1.0h-1.0zM842.8,637.3h0.7v0.7h-0.7zM845.0,636.9h1.3v1.3h-1.3zM842.8,645.5h1.3v1.3h-1.3zM848.8,642.0h1.1v1.1h-1.1zM849.1,649.1h1.2v1.2h-1.2zM846.3,651.6h1.5v1.5h-1.5zM859.1,650.1h0.9v0.9h-0.9zM840.1,645.4h1.6v1.6h-1.6zM859.5,652.3h0.8v0.8h-0.8zM844.1,638.7h1.0v1.0h-1.0zM858.8,640.0h1.4v1.4h-1.4zM850.9,641.4h1.1v1.1h-1.1zM841.2,650.4h1.5v1.5h-1.5zM846.4,658.7h0.9v0.9h-0.9zM847.0,651.9h0.8v0.8h-0.8zM840.8,647.1h1.1v1.1h-1.1zM843.3,639.2h0.7v0.7h-0.7zM843.8,638.6h1.3v1.3h-1.3zM857.6,649.6h0.8v0.8h-0.8zM850.9,658.3h1.0v1.0h-1.0zM854.4,635.0h1.4v1.4h-1.4zM856.9,648.2h1.5v1.5h-1.5zM851.8,654.1h1.1v1.1h-1.1zM847.6,641.6h1.2v1.2h-1.2zM855.2,635.8h1.3v1.3h-1.3zM840.8,650.7h1.3v1.3h-1.3zM858.1,650.9h1.3v1.3h-1.3zM853.5,651.4h1.3v1.3h-1.3zM853.4,655.7h1.0v1.0h-1.0zM858.8,639.6h0.6v0.6h-0.6zM841.1,648.3h1.5v1.5h-1.5zM842.5,656.6h1.1v1.1h-1.1zM853.1,638.9h1.6v1.6h-1.6zM849.2,640.8h1.2v1.2h-1.2zM841.0,650.8h1.4v1.4h-1.4zM842.5,641.1h0.9v0.9h-0.9zM843.9,650.1h1.4v1.4h-1.4zM849.1,651.9h1.5v1.5h-1.5zM856.1,644.2h1.5v1.5h-1.5zM843.8,655.1h0.7v0.7h-0.7zM846.4,637.4h1.2v1.2h-1.2zM842.3,649.8h0.8v0.8h-0.8zM853.3,647.0h0.9v0.9h-0.9zM842.9,653.5h0.8v0.8h-0.8zM846.6,657.4h1.5v1.5h-1.5zM854.3,650.5h1.4v1.4h-1.4zM856.5,655.3h1.4v1.4h-1.4zM848.2,653.5h1.0v1.0h-1.0zM851.1,635.5h0.8v0.8h-0.8zM853.3,637.0h0.7v0.7h-0.7z" fill="#000" stroke="none"/>
<path d="M759.4,633.4H860.6M759.8,660.9H859.6" stroke-width="1.5"/>
<path d="M787.3,633.4V660.9" stroke-width="1.8"/>
<pattern id="hf1" patternUnits="userSpaceOnUse" x="788.2" y="633.4" width="14.80" height="6.3"><rect x="0" y="0" width="14.80" height="6.3" fill="#000"/><path d="M4.50,11.90L9.77,16.70L7.58,19.10L2.31,14.30ZM1.35,13.43L-2.87,9.59L-0.68,7.19L3.53,11.02ZM8.20,18.58L13.90,13.58L16.04,16.02L10.34,21.02ZM4.50,5.60L9.77,10.40L7.58,12.80L2.31,8.00ZM1.35,7.13L-2.87,3.29L-0.68,0.89L3.53,4.72ZM8.20,12.28L13.90,7.28L16.04,9.72L10.34,14.72ZM4.50,-0.70L9.77,4.10L7.58,6.50L2.31,1.70ZM1.35,0.83L-2.87,-3.01L-0.68,-5.41L3.53,-1.58ZM8.20,5.98L13.90,0.98L16.04,3.42L10.34,8.42ZM4.50,-7.00L9.77,-2.20L7.58,0.20L2.31,-4.60ZM1.35,-5.47L-2.87,-9.31L-0.68,-11.71L3.53,-7.88ZM8.20,-0.32L13.90,-5.32L16.04,-2.88L10.34,2.12ZM4.50,-13.30L9.77,-8.50L7.58,-6.10L2.31,-10.90ZM1.35,-11.77L-2.87,-15.61L-0.68,-18.01L3.53,-14.18ZM8.20,-6.62L13.90,-11.62L16.04,-9.18L10.34,-4.18Z" fill="#fff" stroke="none"/></pattern>
<rect x="788.2" y="633.4" width="14.80" height="27.50" fill="url(#hf1)" stroke="none"/>
<path d="M788.2,633.4V660.9M803.0,633.4V660.9" stroke-width="1.6"/>
<path d="M804.6,633.4V660.9" stroke-width="2.2"/>
<path d="M818.3,633.4V660.9" stroke-width="1.6"/>
<pattern id="hf2" patternUnits="userSpaceOnUse" x="819.4" y="633.4" width="15.20" height="6.3"><rect x="0" y="0" width="15.20" height="6.3" fill="#000"/><path d="M4.57,-5.58L9.99,-10.38L7.83,-12.82L2.42,-8.02ZM1.44,-7.15L-2.82,-3.37L-0.67,-0.94L3.60,-4.72ZM8.47,-12.26L14.32,-7.26L16.43,-9.74L10.58,-14.74ZM4.57,0.72L9.99,-4.08L7.83,-6.52L2.42,-1.72ZM1.44,-0.85L-2.82,2.93L-0.67,5.36L3.60,1.58ZM8.47,-5.96L14.32,-0.96L16.43,-3.44L10.58,-8.44ZM4.57,7.02L9.99,2.22L7.83,-0.22L2.42,4.58ZM1.44,5.45L-2.82,9.23L-0.67,11.66L3.60,7.88ZM8.47,0.34L14.32,5.34L16.43,2.86L10.58,-2.14ZM4.57,13.32L9.99,8.52L7.83,6.08L2.42,10.88ZM1.44,11.75L-2.82,15.53L-0.67,17.96L3.60,14.18ZM8.47,6.64L14.32,11.64L16.43,9.16L10.58,4.16ZM4.57,19.62L9.99,14.82L7.83,12.38L2.42,17.18ZM1.44,18.05L-2.82,21.83L-0.67,24.26L3.60,20.48ZM8.47,12.94L14.32,17.94L16.43,15.46L10.58,10.46Z" fill="#fff" stroke="none"/></pattern>
<rect x="819.4" y="633.4" width="15.20" height="27.50" fill="url(#hf2)" stroke="none"/>
<path d="M819.4,633.4V660.9M834.6,633.4V660.9" stroke-width="1.6"/>
<path d="M836.4,633.4V660.9" stroke-width="1.6"/>
<path d="M771.5,660.9V668.5H850.2V660.9" stroke-width="1.5"/>
<path d="M771.5,664.2H850.2" stroke-width="1.5"/>
<path d="M774.8,668.6V691.7M847.4,668.6V691.7" stroke-width="1.5"/>
<path d="M773.7,691.7H849.4L849.6,767.6H772.9Z" stroke-width="1.5"/>
<path d="M772.9,767.6H849.6" stroke-width="2.4"/>
<path d="M773.9,734.7H781.7V767.6M778.6,735.2V767.6" stroke-width="1.5"/>
<path d="M805.5,767.6V734.7H817.4V767.6M807.2,735.2V767.6M815.7,735.2V767.6" stroke-width="1.6"/>
<path d="M849.2,734.7H841.2V767.6M844.3,735.2V767.6" stroke-width="1.5"/>
<pattern id="hfa1" patternUnits="userSpaceOnUse" x="789.8" y="768.3" width="18.00" height="6.3"><rect x="0" y="0" width="18.00" height="6.3" fill="#000"/><path d="M5.11,-5.50L11.53,-10.30L9.58,-12.90L3.16,-8.10ZM2.12,-7.32L-2.44,-3.91L-0.49,-1.30L4.07,-4.72ZM10.33,-12.18L17.26,-7.18L19.16,-9.82L12.23,-14.82ZM5.11,0.80L11.53,-4.00L9.58,-6.60L3.16,-1.80ZM2.12,-1.02L-2.44,2.39L-0.49,5.00L4.07,1.58ZM10.33,-5.88L17.26,-0.88L19.16,-3.52L12.23,-8.52ZM5.11,7.10L11.53,2.30L9.58,-0.30L3.16,4.50ZM2.12,5.28L-2.44,8.69L-0.49,11.30L4.07,7.88ZM10.33,0.42L17.26,5.42L19.16,2.78L12.23,-2.22ZM5.11,13.40L11.53,8.60L9.58,6.00L3.16,10.80ZM2.12,11.58L-2.44,14.99L-0.49,17.60L4.07,14.18ZM10.33,6.72L17.26,11.72L19.16,9.08L12.23,4.08ZM5.11,19.70L11.53,14.90L9.58,12.30L3.16,17.10ZM2.12,17.88L-2.44,21.29L-0.49,23.90L4.07,20.48ZM10.33,13.02L17.26,18.02L19.16,15.38L12.23,10.38Z" fill="#fff" stroke="none"/></pattern>
<rect x="789.8" y="768.3" width="18.00" height="83.20" fill="url(#hfa1)" stroke="none"/>
<path d="M789.8,768.3V851.5M807.8,768.3V851.5" stroke-width="1.7"/>
<pattern id="hfa2" patternUnits="userSpaceOnUse" x="789.8" y="854.5" width="18.00" height="6.3"><rect x="0" y="0" width="18.00" height="6.3" fill="#000"/><path d="M5.11,-5.50L11.53,-10.30L9.58,-12.90L3.16,-8.10ZM2.12,-7.32L-2.44,-3.91L-0.49,-1.30L4.07,-4.72ZM10.33,-12.18L17.26,-7.18L19.16,-9.82L12.23,-14.82ZM5.11,0.80L11.53,-4.00L9.58,-6.60L3.16,-1.80ZM2.12,-1.02L-2.44,2.39L-0.49,5.00L4.07,1.58ZM10.33,-5.88L17.26,-0.88L19.16,-3.52L12.23,-8.52ZM5.11,7.10L11.53,2.30L9.58,-0.30L3.16,4.50ZM2.12,5.28L-2.44,8.69L-0.49,11.30L4.07,7.88ZM10.33,0.42L17.26,5.42L19.16,2.78L12.23,-2.22ZM5.11,13.40L11.53,8.60L9.58,6.00L3.16,10.80ZM2.12,11.58L-2.44,14.99L-0.49,17.60L4.07,14.18ZM10.33,6.72L17.26,11.72L19.16,9.08L12.23,4.08ZM5.11,19.70L11.53,14.90L9.58,12.30L3.16,17.10ZM2.12,17.88L-2.44,21.29L-0.49,23.90L4.07,20.48ZM10.33,13.02L17.26,18.02L19.16,15.38L12.23,10.38Z" fill="#fff" stroke="none"/></pattern>
<rect x="789.8" y="854.5" width="18.00" height="22.70" fill="url(#hfa2)" stroke="none"/>
<path d="M789.8,854.5V877.2M807.8,854.5V877.2" stroke-width="1.7"/>
<path d="M789.8,851.5Q793.8,849.8 798.8,851.5T807.8,851.5M789.8,854.5Q793.8,852.8 798.8,854.5T807.8,854.5" stroke-width="1.2"/>
<path d="M789.8,877.2V884.9H807.8V877.2H789.8" stroke-width="1.8"/>
<path d="M789.8,884.9V888.4H807.8V884.9" stroke-width="1.6"/>
<path d="M790.3,888.4V897.5H807.3V888.4" stroke-width="1.6"/>
<path d="M788.4,897.5H809.1999999999999Q810.6999999999999,899 809.1999999999999,900.6H788.4Q786.9,899 788.4,897.5Z" stroke-width="1.6"/>
<pattern id="hfb1" patternUnits="userSpaceOnUse" x="815.0" y="768.3" width="18.00" height="6.3"><rect x="0" y="0" width="18.00" height="6.3" fill="#000"/><path d="M5.11,-5.50L11.53,-10.30L9.58,-12.90L3.16,-8.10ZM2.12,-7.32L-2.44,-3.91L-0.49,-1.30L4.07,-4.72ZM10.33,-12.18L17.26,-7.18L19.16,-9.82L12.23,-14.82ZM5.11,0.80L11.53,-4.00L9.58,-6.60L3.16,-1.80ZM2.12,-1.02L-2.44,2.39L-0.49,5.00L4.07,1.58ZM10.33,-5.88L17.26,-0.88L19.16,-3.52L12.23,-8.52ZM5.11,7.10L11.53,2.30L9.58,-0.30L3.16,4.50ZM2.12,5.28L-2.44,8.69L-0.49,11.30L4.07,7.88ZM10.33,0.42L17.26,5.42L19.16,2.78L12.23,-2.22ZM5.11,13.40L11.53,8.60L9.58,6.00L3.16,10.80ZM2.12,11.58L-2.44,14.99L-0.49,17.60L4.07,14.18ZM10.33,6.72L17.26,11.72L19.16,9.08L12.23,4.08ZM5.11,19.70L11.53,14.90L9.58,12.30L3.16,17.10ZM2.12,17.88L-2.44,21.29L-0.49,23.90L4.07,20.48ZM10.33,13.02L17.26,18.02L19.16,15.38L12.23,10.38Z" fill="#fff" stroke="none"/></pattern>
<rect x="815.0" y="768.3" width="18.00" height="83.20" fill="url(#hfb1)" stroke="none"/>
<path d="M815.0,768.3V851.5M833.0,768.3V851.5" stroke-width="1.7"/>
<pattern id="hfb2" patternUnits="userSpaceOnUse" x="815.0" y="854.5" width="18.00" height="6.3"><rect x="0" y="0" width="18.00" height="6.3" fill="#000"/><path d="M5.11,-5.50L11.53,-10.30L9.58,-12.90L3.16,-8.10ZM2.12,-7.32L-2.44,-3.91L-0.49,-1.30L4.07,-4.72ZM10.33,-12.18L17.26,-7.18L19.16,-9.82L12.23,-14.82ZM5.11,0.80L11.53,-4.00L9.58,-6.60L3.16,-1.80ZM2.12,-1.02L-2.44,2.39L-0.49,5.00L4.07,1.58ZM10.33,-5.88L17.26,-0.88L19.16,-3.52L12.23,-8.52ZM5.11,7.10L11.53,2.30L9.58,-0.30L3.16,4.50ZM2.12,5.28L-2.44,8.69L-0.49,11.30L4.07,7.88ZM10.33,0.42L17.26,5.42L19.16,2.78L12.23,-2.22ZM5.11,13.40L11.53,8.60L9.58,6.00L3.16,10.80ZM2.12,11.58L-2.44,14.99L-0.49,17.60L4.07,14.18ZM10.33,6.72L17.26,11.72L19.16,9.08L12.23,4.08ZM5.11,19.70L11.53,14.90L9.58,12.30L3.16,17.10ZM2.12,17.88L-2.44,21.29L-0.49,23.90L4.07,20.48ZM10.33,13.02L17.26,18.02L19.16,15.38L12.23,10.38Z" fill="#fff" stroke="none"/></pattern>
<rect x="815.0" y="854.5" width="18.00" height="22.70" fill="url(#hfb2)" stroke="none"/>
<path d="M815.0,854.5V877.2M833.0,854.5V877.2" stroke-width="1.7"/>
<path d="M815.0,851.5Q819.0,849.8 824.0,851.5T833.0,851.5M815.0,854.5Q819.0,852.8 824.0,854.5T833.0,854.5" stroke-width="1.2"/>
<path d="M815.0,877.2V884.9H833.0V877.2H815.0" stroke-width="1.8"/>
<path d="M815.0,884.9V888.4H833.0V884.9" stroke-width="1.6"/>
<path d="M815.5,888.4V897.5H832.5V888.4" stroke-width="1.6"/>
<path d="M813.6,897.5H834.4Q835.9,899 834.4,900.6H813.6Q812.1,899 813.6,897.5Z" stroke-width="1.6"/>
<path d="M783.5,902.7H810.4Q811.4,902.7 811.4,904V911.5Q811.4,912.4 810.4,912.4H783.5Q782.5,912.4 782.5,911.5V904Q782.5,902.7 783.5,902.7Z" fill="#000" stroke="none"/>
<path d="M793.1500000000001,904.6H800.75L802.45,911H791.45Z" fill="#fff" stroke="none"/>
<path d="M784.0,905.8l1.8,-1.5M783.8,908.8l2.4,-2M783.8,911.4l2.2,-1.8M790.8,904.4l2.2,1.8M790.8,907.2l2.4,2M791.0,910.2l1.8,1.5M800.9,905.8l1.8,-1.5M800.6999999999999,908.8l2.4,-2M800.6999999999999,911.4l2.2,-1.8M807.6999999999999,904.4l2.2,1.8M807.6999999999999,907.2l2.4,2M807.9,910.2l1.8,1.5" stroke="#fff" stroke-width="0.8"/>
<path d="M785.0,912.4H808.9V920.3H785.0Z" fill="#000" stroke="none"/>
<rect x="788.8" y="913.6" width="16.30" height="4.8" fill="#fff" stroke="none"/>
<path d="M812.4,902.7H839.5Q840.5,902.7 840.5,904V911.5Q840.5,912.4 839.5,912.4H812.4Q811.4,912.4 811.4,911.5V904Q811.4,902.7 812.4,902.7Z" fill="#000" stroke="none"/>
<path d="M822.1500000000001,904.6H829.75L831.45,911H820.45Z" fill="#fff" stroke="none"/>
<path d="M812.9,905.8l1.8,-1.5M812.6999999999999,908.8l2.4,-2M812.6999999999999,911.4l2.2,-1.8M819.6999999999999,904.4l2.2,1.8M819.6999999999999,907.2l2.4,2M819.9,910.2l1.8,1.5M830.0,905.8l1.8,-1.5M829.8,908.8l2.4,-2M829.8,911.4l2.2,-1.8M836.8,904.4l2.2,1.8M836.8,907.2l2.4,2M837.0,910.2l1.8,1.5" stroke="#fff" stroke-width="0.8"/>
<path d="M813.9,912.4H838.0V920.3H813.9Z" fill="#000" stroke="none"/>
<rect x="817.6999999999999" y="913.6" width="16.50" height="4.8" fill="#fff" stroke="none"/>
<path d="M413.9,486.5L416.4,493" stroke-width="1.5"/>
<path d="M423.9,477.6V487.5" stroke-width="1.5"/>
<path d="M877.6,432.6L884.8,440.2" stroke-width="1.3"/>
</svg></body></html>
